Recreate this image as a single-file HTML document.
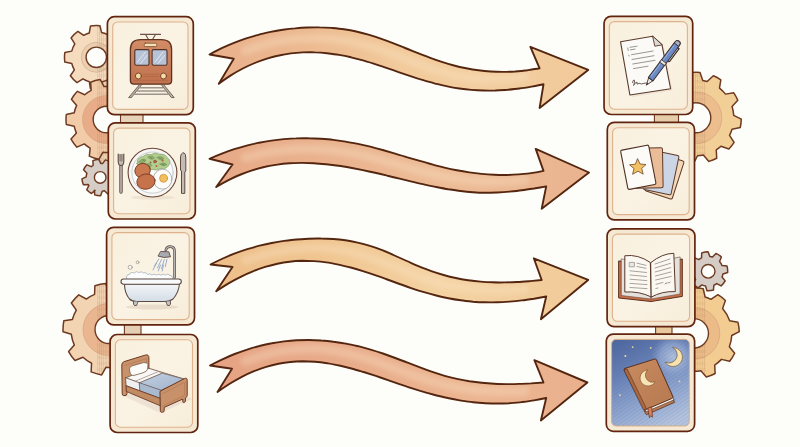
<!DOCTYPE html>
<html><head><meta charset="utf-8"><style>
html,body{margin:0;padding:0;background:#fdfdfa;width:800px;height:447px;overflow:hidden;font-family:"Liberation Sans",sans-serif;}
svg{display:block}
</style></head><body>
<svg width="800" height="447" viewBox="0 0 800 447">
<defs>
<linearGradient id="cardfill" x1="0" y1="0" x2="1" y2="1">
 <stop offset="0" stop-color="#f9f0de"/><stop offset="0.5" stop-color="#faf3e4"/><stop offset="1" stop-color="#f8edda"/>
</linearGradient>
<linearGradient id="g1" x1="209" y1="0" x2="590" y2="0" gradientUnits="userSpaceOnUse">
 <stop offset="0" stop-color="#e9b08c"/><stop offset="0.25" stop-color="#ecb990"/><stop offset="0.5" stop-color="#f2ca9b"/><stop offset="0.7" stop-color="#f3cea0"/><stop offset="1" stop-color="#f1c99a"/>
</linearGradient>
<linearGradient id="g2" x1="209" y1="0" x2="590" y2="0" gradientUnits="userSpaceOnUse">
 <stop offset="0" stop-color="#e7a987"/><stop offset="0.3" stop-color="#eab28e"/><stop offset="0.6" stop-color="#edbc96"/><stop offset="1" stop-color="#eab390"/>
</linearGradient>
<linearGradient id="g3" x1="209" y1="0" x2="590" y2="0" gradientUnits="userSpaceOnUse">
 <stop offset="0" stop-color="#edbe8a"/><stop offset="0.3" stop-color="#f0c590"/><stop offset="0.6" stop-color="#f4d2a2"/><stop offset="1" stop-color="#f1ca98"/>
</linearGradient>
<linearGradient id="g4" x1="209" y1="0" x2="590" y2="0" gradientUnits="userSpaceOnUse">
 <stop offset="0" stop-color="#e5a283"/><stop offset="0.4" stop-color="#e9ad8b"/><stop offset="0.7" stop-color="#ecb591"/><stop offset="1" stop-color="#eab08e"/>
</linearGradient>
<linearGradient id="trainbody" x1="0" y1="0" x2="0" y2="1">
 <stop offset="0" stop-color="#d28c66"/><stop offset="1" stop-color="#c0714e"/>
</linearGradient>
<linearGradient id="tub" x1="0" y1="0" x2="0" y2="1">
 <stop offset="0" stop-color="#f2f5f7"/><stop offset="1" stop-color="#d3dde6"/>
</linearGradient>
<linearGradient id="blanket" x1="0" y1="0" x2="1" y2="1">
 <stop offset="0" stop-color="#c3d0e0"/><stop offset="1" stop-color="#9fb2cb"/>
</linearGradient>
<linearGradient id="bookcover" x1="0" y1="0" x2="1" y2="1">
 <stop offset="0" stop-color="#c98c60"/><stop offset="1" stop-color="#b57850"/>
</linearGradient>
<linearGradient id="nightbase" x1="625" y1="340" x2="665" y2="426" gradientUnits="userSpaceOnUse">
 <stop offset="0" stop-color="#506aa2"/><stop offset="0.35" stop-color="#6a84b9"/><stop offset="0.7" stop-color="#92a8d0"/><stop offset="1" stop-color="#b6c5df"/>
</linearGradient>
<radialGradient id="nightglowr" cx="673" cy="357" r="22" gradientUnits="userSpaceOnUse">
 <stop offset="0" stop-color="#b4c4e0" stop-opacity="0.95"/><stop offset="0.6" stop-color="#a2b5d8" stop-opacity="0.6"/><stop offset="1" stop-color="#8aa0cc" stop-opacity="0"/>
</radialGradient>
<clipPath id="clipL"><rect x="0" y="0" width="112" height="447"/></clipPath>
<clipPath id="clipR"><rect x="690" y="0" width="110" height="447"/></clipPath>
<filter id="soft" x="-10%" y="-50%" width="120%" height="200%"><feGaussianBlur stdDeviation="2.5"/></filter>
<pattern id="grain" width="2.2" height="6" patternUnits="userSpaceOnUse">
 <rect x="0" width="0.7" height="6" fill="#b98a62" opacity="0.35"/><rect x="1.2" y="2" width="0.5" height="3" fill="#a87a55" opacity="0.3"/>
</pattern>
<pattern id="hatch" width="3" height="3" patternUnits="userSpaceOnUse" patternTransform="rotate(-35)">
 <rect width="3" height="1.2" fill="#3e5488"/>
</pattern>
</defs>
<rect width="800" height="447" fill="#fdfdfa"/>
<g clip-path="url(#clipL)">
<rect x="99" y="60" width="10" height="120" fill="#edd3b4"/><rect x="99" y="60" width="10" height="120" fill="url(#grain)"/>
<clipPath id="gc1"><path d="M121.03,51.97L127.89,53.67A31.80,31.80 0 0 1 127.56,63.13L120.60,64.34A25.30,25.30 0 0 1 117.56,71.02L121.21,77.07A31.80,31.80 0 0 1 114.29,83.53L108.51,79.46A25.30,25.30 0 0 1 101.63,82.03L99.93,88.89A31.80,31.80 0 0 1 90.47,88.56L89.26,81.60A25.30,25.30 0 0 1 82.95,78.79L76.97,82.55A31.80,31.80 0 0 1 70.39,75.74L74.36,69.89A25.30,25.30 0 0 1 71.77,63.49L64.85,62.03A31.80,31.80 0 0 1 64.85,52.57L71.77,51.11A25.30,25.30 0 0 1 74.81,43.95L71.05,37.97A31.80,31.80 0 0 1 77.86,31.39L83.71,35.36A25.30,25.30 0 0 1 89.26,33.00L90.47,26.04A31.80,31.80 0 0 1 99.93,25.71L101.63,32.57A25.30,25.30 0 0 1 108.51,35.14L114.29,31.07A31.80,31.80 0 0 1 121.21,37.53L117.56,43.58A25.30,25.30 0 0 1 121.03,51.97Z"/></clipPath><path d="M121.03,51.97L127.89,53.67A31.80,31.80 0 0 1 127.56,63.13L120.60,64.34A25.30,25.30 0 0 1 117.56,71.02L121.21,77.07A31.80,31.80 0 0 1 114.29,83.53L108.51,79.46A25.30,25.30 0 0 1 101.63,82.03L99.93,88.89A31.80,31.80 0 0 1 90.47,88.56L89.26,81.60A25.30,25.30 0 0 1 82.95,78.79L76.97,82.55A31.80,31.80 0 0 1 70.39,75.74L74.36,69.89A25.30,25.30 0 0 1 71.77,63.49L64.85,62.03A31.80,31.80 0 0 1 64.85,52.57L71.77,51.11A25.30,25.30 0 0 1 74.81,43.95L71.05,37.97A31.80,31.80 0 0 1 77.86,31.39L83.71,35.36A25.30,25.30 0 0 1 89.26,33.00L90.47,26.04A31.80,31.80 0 0 1 99.93,25.71L101.63,32.57A25.30,25.30 0 0 1 108.51,35.14L114.29,31.07A31.80,31.80 0 0 1 121.21,37.53L117.56,43.58A25.30,25.30 0 0 1 121.03,51.97Z" fill="#f5dcbf"/><circle cx="96.3" cy="57.3" r="12.6" fill="none" stroke="#ead0b0" stroke-width="4.8"/><circle cx="96.3" cy="57.3" r="15.0" fill="none" stroke="#c99a74" stroke-width="0.7" opacity="0.7"/><g clip-path="url(#gc1)"><rect x="97" y="25.499999999999996" width="15" height="63.6" fill="url(#grain)"/></g><path d="M121.03,51.97L127.89,53.67A31.80,31.80 0 0 1 127.56,63.13L120.60,64.34A25.30,25.30 0 0 1 117.56,71.02L121.21,77.07A31.80,31.80 0 0 1 114.29,83.53L108.51,79.46A25.30,25.30 0 0 1 101.63,82.03L99.93,88.89A31.80,31.80 0 0 1 90.47,88.56L89.26,81.60A25.30,25.30 0 0 1 82.95,78.79L76.97,82.55A31.80,31.80 0 0 1 70.39,75.74L74.36,69.89A25.30,25.30 0 0 1 71.77,63.49L64.85,62.03A31.80,31.80 0 0 1 64.85,52.57L71.77,51.11A25.30,25.30 0 0 1 74.81,43.95L71.05,37.97A31.80,31.80 0 0 1 77.86,31.39L83.71,35.36A25.30,25.30 0 0 1 89.26,33.00L90.47,26.04A31.80,31.80 0 0 1 99.93,25.71L101.63,32.57A25.30,25.30 0 0 1 108.51,35.14L114.29,31.07A31.80,31.80 0 0 1 121.21,37.53L117.56,43.58A25.30,25.30 0 0 1 121.03,51.97Z" fill="none" stroke="#6e3a22" stroke-width="1.5" stroke-linejoin="round"/><circle cx="96.3" cy="57.3" r="10.2" fill="#fdfdfa" stroke="#6e3a22" stroke-width="1.4"/>
<clipPath id="gc2"><path d="M114.20,177.31L118.38,179.51A18.30,18.30 0 0 1 116.73,185.25L112.02,184.90A14.00,14.00 0 0 1 110.98,186.33L112.77,190.70A18.30,18.30 0 0 1 107.82,194.04L104.44,190.74A14.00,14.00 0 0 1 102.24,191.25L100.64,195.69A18.30,18.30 0 0 1 94.73,194.86L94.42,190.15A14.00,14.00 0 0 1 95.04,190.41L91.44,193.47A18.30,18.30 0 0 1 86.73,189.79L88.82,185.56A14.00,14.00 0 0 1 88.12,184.48L83.40,184.67A18.30,18.30 0 0 1 81.96,178.87L86.21,176.82A14.00,14.00 0 0 1 86.86,173.16L83.56,169.78A18.30,18.30 0 0 1 86.90,164.83L91.27,166.62A14.00,14.00 0 0 1 93.12,165.32L92.93,160.60A18.30,18.30 0 0 1 98.73,159.16L100.78,163.41A14.00,14.00 0 0 1 102.54,163.60L105.43,159.86A18.30,18.30 0 0 1 110.80,162.48L109.63,167.06A14.00,14.00 0 0 1 110.87,168.33L115.48,167.33A18.30,18.30 0 0 1 117.91,172.78L114.08,175.54A14.00,14.00 0 0 1 114.20,177.31Z"/></clipPath><path d="M114.20,177.31L118.38,179.51A18.30,18.30 0 0 1 116.73,185.25L112.02,184.90A14.00,14.00 0 0 1 110.98,186.33L112.77,190.70A18.30,18.30 0 0 1 107.82,194.04L104.44,190.74A14.00,14.00 0 0 1 102.24,191.25L100.64,195.69A18.30,18.30 0 0 1 94.73,194.86L94.42,190.15A14.00,14.00 0 0 1 95.04,190.41L91.44,193.47A18.30,18.30 0 0 1 86.73,189.79L88.82,185.56A14.00,14.00 0 0 1 88.12,184.48L83.40,184.67A18.30,18.30 0 0 1 81.96,178.87L86.21,176.82A14.00,14.00 0 0 1 86.86,173.16L83.56,169.78A18.30,18.30 0 0 1 86.90,164.83L91.27,166.62A14.00,14.00 0 0 1 93.12,165.32L92.93,160.60A18.30,18.30 0 0 1 98.73,159.16L100.78,163.41A14.00,14.00 0 0 1 102.54,163.60L105.43,159.86A18.30,18.30 0 0 1 110.80,162.48L109.63,167.06A14.00,14.00 0 0 1 110.87,168.33L115.48,167.33A18.30,18.30 0 0 1 117.91,172.78L114.08,175.54A14.00,14.00 0 0 1 114.20,177.31Z" fill="#d6cec6"/><path d="M114.20,177.31L118.38,179.51A18.30,18.30 0 0 1 116.73,185.25L112.02,184.90A14.00,14.00 0 0 1 110.98,186.33L112.77,190.70A18.30,18.30 0 0 1 107.82,194.04L104.44,190.74A14.00,14.00 0 0 1 102.24,191.25L100.64,195.69A18.30,18.30 0 0 1 94.73,194.86L94.42,190.15A14.00,14.00 0 0 1 95.04,190.41L91.44,193.47A18.30,18.30 0 0 1 86.73,189.79L88.82,185.56A14.00,14.00 0 0 1 88.12,184.48L83.40,184.67A18.30,18.30 0 0 1 81.96,178.87L86.21,176.82A14.00,14.00 0 0 1 86.86,173.16L83.56,169.78A18.30,18.30 0 0 1 86.90,164.83L91.27,166.62A14.00,14.00 0 0 1 93.12,165.32L92.93,160.60A18.30,18.30 0 0 1 98.73,159.16L100.78,163.41A14.00,14.00 0 0 1 102.54,163.60L105.43,159.86A18.30,18.30 0 0 1 110.80,162.48L109.63,167.06A14.00,14.00 0 0 1 110.87,168.33L115.48,167.33A18.30,18.30 0 0 1 117.91,172.78L114.08,175.54A14.00,14.00 0 0 1 114.20,177.31Z" fill="none" stroke="#6e3a22" stroke-width="1.5" stroke-linejoin="round"/><circle cx="100.2" cy="177.4" r="5.8" fill="#fdfdfa" stroke="#6e3a22" stroke-width="1.4"/>
<clipPath id="gc3"><path d="M138.81,112.80L146.69,114.51A40.50,40.50 0 0 1 146.69,124.49L138.81,126.20A33.00,33.00 0 0 1 136.58,133.07L141.95,139.09A40.50,40.50 0 0 1 136.08,147.16L128.70,143.92A33.00,33.00 0 0 1 122.86,148.16L123.66,156.18A40.50,40.50 0 0 1 114.18,159.27L110.11,152.30A33.00,33.00 0 0 1 102.89,152.30L98.82,159.27A40.50,40.50 0 0 1 89.34,156.18L90.14,148.16A33.00,33.00 0 0 1 84.30,143.92L76.92,147.16A40.50,40.50 0 0 1 71.05,139.09L76.42,133.07A33.00,33.00 0 0 1 74.19,126.20L66.31,124.49A40.50,40.50 0 0 1 66.31,114.51L74.19,112.80A33.00,33.00 0 0 1 76.66,105.41L71.40,99.30A40.50,40.50 0 0 1 77.40,91.33L84.73,94.70A33.00,33.00 0 0 1 91.15,90.29L90.63,82.24A40.50,40.50 0 0 1 100.22,79.49L104.04,86.59A33.00,33.00 0 0 1 110.11,86.70L114.18,79.73A40.50,40.50 0 0 1 123.66,82.82L122.86,90.84A33.00,33.00 0 0 1 128.70,95.08L136.08,91.84A40.50,40.50 0 0 1 141.95,99.91L136.58,105.93A33.00,33.00 0 0 1 138.81,112.80Z"/></clipPath><path d="M138.81,112.80L146.69,114.51A40.50,40.50 0 0 1 146.69,124.49L138.81,126.20A33.00,33.00 0 0 1 136.58,133.07L141.95,139.09A40.50,40.50 0 0 1 136.08,147.16L128.70,143.92A33.00,33.00 0 0 1 122.86,148.16L123.66,156.18A40.50,40.50 0 0 1 114.18,159.27L110.11,152.30A33.00,33.00 0 0 1 102.89,152.30L98.82,159.27A40.50,40.50 0 0 1 89.34,156.18L90.14,148.16A33.00,33.00 0 0 1 84.30,143.92L76.92,147.16A40.50,40.50 0 0 1 71.05,139.09L76.42,133.07A33.00,33.00 0 0 1 74.19,126.20L66.31,124.49A40.50,40.50 0 0 1 66.31,114.51L74.19,112.80A33.00,33.00 0 0 1 76.66,105.41L71.40,99.30A40.50,40.50 0 0 1 77.40,91.33L84.73,94.70A33.00,33.00 0 0 1 91.15,90.29L90.63,82.24A40.50,40.50 0 0 1 100.22,79.49L104.04,86.59A33.00,33.00 0 0 1 110.11,86.70L114.18,79.73A40.50,40.50 0 0 1 123.66,82.82L122.86,90.84A33.00,33.00 0 0 1 128.70,95.08L136.08,91.84A40.50,40.50 0 0 1 141.95,99.91L136.58,105.93A33.00,33.00 0 0 1 138.81,112.80Z" fill="#f2cca8"/><circle cx="106.5" cy="119.5" r="18.6" fill="none" stroke="#e8ad88" stroke-width="10.7"/><circle cx="106.5" cy="119.5" r="24.0" fill="none" stroke="#c99a74" stroke-width="0.7" opacity="0.7"/><g clip-path="url(#gc3)"><rect x="97" y="79.0" width="15" height="81.0" fill="url(#grain)"/></g><path d="M138.81,112.80L146.69,114.51A40.50,40.50 0 0 1 146.69,124.49L138.81,126.20A33.00,33.00 0 0 1 136.58,133.07L141.95,139.09A40.50,40.50 0 0 1 136.08,147.16L128.70,143.92A33.00,33.00 0 0 1 122.86,148.16L123.66,156.18A40.50,40.50 0 0 1 114.18,159.27L110.11,152.30A33.00,33.00 0 0 1 102.89,152.30L98.82,159.27A40.50,40.50 0 0 1 89.34,156.18L90.14,148.16A33.00,33.00 0 0 1 84.30,143.92L76.92,147.16A40.50,40.50 0 0 1 71.05,139.09L76.42,133.07A33.00,33.00 0 0 1 74.19,126.20L66.31,124.49A40.50,40.50 0 0 1 66.31,114.51L74.19,112.80A33.00,33.00 0 0 1 76.66,105.41L71.40,99.30A40.50,40.50 0 0 1 77.40,91.33L84.73,94.70A33.00,33.00 0 0 1 91.15,90.29L90.63,82.24A40.50,40.50 0 0 1 100.22,79.49L104.04,86.59A33.00,33.00 0 0 1 110.11,86.70L114.18,79.73A40.50,40.50 0 0 1 123.66,82.82L122.86,90.84A33.00,33.00 0 0 1 128.70,95.08L136.08,91.84A40.50,40.50 0 0 1 141.95,99.91L136.58,105.93A33.00,33.00 0 0 1 138.81,112.80Z" fill="none" stroke="#6e3a22" stroke-width="1.5" stroke-linejoin="round"/><circle cx="106.5" cy="119.5" r="13.3" fill="#fdfdfa" stroke="#6e3a22" stroke-width="1.4"/>
<clipPath id="gc4"><path d="M145.00,341.68L151.30,347.58A46.00,46.00 0 0 1 145.81,357.09L137.54,354.58A38.00,38.00 0 0 1 129.87,361.26L131.20,369.79A46.00,46.00 0 0 1 121.02,373.90L116.05,366.84A38.00,38.00 0 0 1 105.89,367.37L101.69,374.91A46.00,46.00 0 0 1 91.14,371.89L91.57,363.26A38.00,38.00 0 0 1 82.99,357.20L75.00,360.49A46.00,46.00 0 0 1 68.63,351.55L74.34,345.07A38.00,38.00 0 0 1 71.31,334.33L63.06,331.79A46.00,46.00 0 0 1 63.82,320.84L72.35,319.47A38.00,38.00 0 0 1 76.32,310.10L71.39,303.02A46.00,46.00 0 0 1 78.73,294.86L86.29,299.03A38.00,38.00 0 0 1 94.58,294.34L94.90,285.71A46.00,46.00 0 0 1 105.67,283.62L109.20,291.50A38.00,38.00 0 0 1 129.52,297.52L136.78,292.84A46.00,46.00 0 0 1 144.67,300.46L140.24,307.87A38.00,38.00 0 0 1 144.86,316.94L153.46,317.71A46.00,46.00 0 0 1 154.99,328.58L146.94,331.69A38.00,38.00 0 0 1 145.00,341.68Z"/></clipPath><path d="M145.00,341.68L151.30,347.58A46.00,46.00 0 0 1 145.81,357.09L137.54,354.58A38.00,38.00 0 0 1 129.87,361.26L131.20,369.79A46.00,46.00 0 0 1 121.02,373.90L116.05,366.84A38.00,38.00 0 0 1 105.89,367.37L101.69,374.91A46.00,46.00 0 0 1 91.14,371.89L91.57,363.26A38.00,38.00 0 0 1 82.99,357.20L75.00,360.49A46.00,46.00 0 0 1 68.63,351.55L74.34,345.07A38.00,38.00 0 0 1 71.31,334.33L63.06,331.79A46.00,46.00 0 0 1 63.82,320.84L72.35,319.47A38.00,38.00 0 0 1 76.32,310.10L71.39,303.02A46.00,46.00 0 0 1 78.73,294.86L86.29,299.03A38.00,38.00 0 0 1 94.58,294.34L94.90,285.71A46.00,46.00 0 0 1 105.67,283.62L109.20,291.50A38.00,38.00 0 0 1 129.52,297.52L136.78,292.84A46.00,46.00 0 0 1 144.67,300.46L140.24,307.87A38.00,38.00 0 0 1 144.86,316.94L153.46,317.71A46.00,46.00 0 0 1 154.99,328.58L146.94,331.69A38.00,38.00 0 0 1 145.00,341.68Z" fill="#f2d3b2"/><circle cx="109" cy="329.5" r="20.0" fill="none" stroke="#e9b690" stroke-width="12.0"/><circle cx="109" cy="329.5" r="26.0" fill="none" stroke="#c99a74" stroke-width="0.7" opacity="0.7"/><g clip-path="url(#gc4)"><rect x="97" y="283.5" width="15" height="92" fill="url(#grain)"/></g><path d="M145.00,341.68L151.30,347.58A46.00,46.00 0 0 1 145.81,357.09L137.54,354.58A38.00,38.00 0 0 1 129.87,361.26L131.20,369.79A46.00,46.00 0 0 1 121.02,373.90L116.05,366.84A38.00,38.00 0 0 1 105.89,367.37L101.69,374.91A46.00,46.00 0 0 1 91.14,371.89L91.57,363.26A38.00,38.00 0 0 1 82.99,357.20L75.00,360.49A46.00,46.00 0 0 1 68.63,351.55L74.34,345.07A38.00,38.00 0 0 1 71.31,334.33L63.06,331.79A46.00,46.00 0 0 1 63.82,320.84L72.35,319.47A38.00,38.00 0 0 1 76.32,310.10L71.39,303.02A46.00,46.00 0 0 1 78.73,294.86L86.29,299.03A38.00,38.00 0 0 1 94.58,294.34L94.90,285.71A46.00,46.00 0 0 1 105.67,283.62L109.20,291.50A38.00,38.00 0 0 1 129.52,297.52L136.78,292.84A46.00,46.00 0 0 1 144.67,300.46L140.24,307.87A38.00,38.00 0 0 1 144.86,316.94L153.46,317.71A46.00,46.00 0 0 1 154.99,328.58L146.94,331.69A38.00,38.00 0 0 1 145.00,341.68Z" fill="none" stroke="#6e3a22" stroke-width="1.5" stroke-linejoin="round"/><circle cx="109" cy="329.5" r="14" fill="#fdfdfa" stroke="#6e3a22" stroke-width="1.4"/>
</g><g clip-path="url(#clipR)">
<clipPath id="gc5"><path d="M733.73,115.44L741.28,119.11A45.50,45.50 0 0 1 740.25,127.53L732.03,129.26A38.00,38.00 0 0 1 729.52,135.31L734.11,142.35A45.50,45.50 0 0 1 728.89,149.03L720.95,146.28A38.00,38.00 0 0 1 716.25,149.83L716.71,158.21A45.50,45.50 0 0 1 708.84,161.39L703.34,155.04A38.00,38.00 0 0 1 697.49,155.76L693.70,163.25A45.50,45.50 0 0 1 685.29,162.07L683.71,153.82A38.00,38.00 0 0 1 674.31,149.14L666.77,152.83A45.50,45.50 0 0 1 660.77,146.83L664.46,139.29A38.00,38.00 0 0 1 658.44,124.76L650.50,122.04A45.50,45.50 0 0 1 650.50,113.56L658.44,110.84A38.00,38.00 0 0 1 664.46,96.31L660.77,88.77A45.50,45.50 0 0 1 666.77,82.77L674.31,86.46A38.00,38.00 0 0 1 688.84,80.44L691.56,72.50A45.50,45.50 0 0 1 700.04,72.50L702.76,80.44A38.00,38.00 0 0 1 707.19,81.55L713.32,75.81A45.50,45.50 0 0 1 720.81,79.79L719.48,88.08A38.00,38.00 0 0 1 725.52,94.12L733.81,92.79A45.50,45.50 0 0 1 737.79,100.28L732.05,106.41A38.00,38.00 0 0 1 733.73,115.44Z"/></clipPath><path d="M733.73,115.44L741.28,119.11A45.50,45.50 0 0 1 740.25,127.53L732.03,129.26A38.00,38.00 0 0 1 729.52,135.31L734.11,142.35A45.50,45.50 0 0 1 728.89,149.03L720.95,146.28A38.00,38.00 0 0 1 716.25,149.83L716.71,158.21A45.50,45.50 0 0 1 708.84,161.39L703.34,155.04A38.00,38.00 0 0 1 697.49,155.76L693.70,163.25A45.50,45.50 0 0 1 685.29,162.07L683.71,153.82A38.00,38.00 0 0 1 674.31,149.14L666.77,152.83A45.50,45.50 0 0 1 660.77,146.83L664.46,139.29A38.00,38.00 0 0 1 658.44,124.76L650.50,122.04A45.50,45.50 0 0 1 650.50,113.56L658.44,110.84A38.00,38.00 0 0 1 664.46,96.31L660.77,88.77A45.50,45.50 0 0 1 666.77,82.77L674.31,86.46A38.00,38.00 0 0 1 688.84,80.44L691.56,72.50A45.50,45.50 0 0 1 700.04,72.50L702.76,80.44A38.00,38.00 0 0 1 707.19,81.55L713.32,75.81A45.50,45.50 0 0 1 720.81,79.79L719.48,88.08A38.00,38.00 0 0 1 725.52,94.12L733.81,92.79A45.50,45.50 0 0 1 737.79,100.28L732.05,106.41A38.00,38.00 0 0 1 733.73,115.44Z" fill="#f3cf98"/><circle cx="695.8" cy="117.8" r="20.5" fill="none" stroke="#ecbe8e" stroke-width="11.0"/><circle cx="695.8" cy="117.8" r="26.0" fill="none" stroke="#c99a74" stroke-width="0.7" opacity="0.7"/><g clip-path="url(#gc5)"><rect x="690" y="72.3" width="16" height="91.0" fill="url(#grain)"/></g><path d="M733.73,115.44L741.28,119.11A45.50,45.50 0 0 1 740.25,127.53L732.03,129.26A38.00,38.00 0 0 1 729.52,135.31L734.11,142.35A45.50,45.50 0 0 1 728.89,149.03L720.95,146.28A38.00,38.00 0 0 1 716.25,149.83L716.71,158.21A45.50,45.50 0 0 1 708.84,161.39L703.34,155.04A38.00,38.00 0 0 1 697.49,155.76L693.70,163.25A45.50,45.50 0 0 1 685.29,162.07L683.71,153.82A38.00,38.00 0 0 1 674.31,149.14L666.77,152.83A45.50,45.50 0 0 1 660.77,146.83L664.46,139.29A38.00,38.00 0 0 1 658.44,124.76L650.50,122.04A45.50,45.50 0 0 1 650.50,113.56L658.44,110.84A38.00,38.00 0 0 1 664.46,96.31L660.77,88.77A45.50,45.50 0 0 1 666.77,82.77L674.31,86.46A38.00,38.00 0 0 1 688.84,80.44L691.56,72.50A45.50,45.50 0 0 1 700.04,72.50L702.76,80.44A38.00,38.00 0 0 1 707.19,81.55L713.32,75.81A45.50,45.50 0 0 1 720.81,79.79L719.48,88.08A38.00,38.00 0 0 1 725.52,94.12L733.81,92.79A45.50,45.50 0 0 1 737.79,100.28L732.05,106.41A38.00,38.00 0 0 1 733.73,115.44Z" fill="none" stroke="#6e3a22" stroke-width="1.5" stroke-linejoin="round"/><circle cx="695.8" cy="117.8" r="15" fill="#fdfdfa" stroke="#6e3a22" stroke-width="1.4"/>
<clipPath id="gc6"><path d="M729.35,346.73L734.69,353.26A45.50,45.50 0 0 1 729.66,361.30L721.45,359.37A38.00,38.00 0 0 1 714.67,365.06L715.15,373.48A45.50,45.50 0 0 1 706.36,377.03L700.85,370.64A38.00,38.00 0 0 1 692.02,371.26L687.45,378.36A45.50,45.50 0 0 1 678.25,376.06L677.56,367.65A38.00,38.00 0 0 1 670.05,362.96L662.18,366.02A45.50,45.50 0 0 1 656.09,358.76L660.47,351.54A38.00,38.00 0 0 1 656.54,340.75L648.55,338.04A45.50,45.50 0 0 1 648.55,328.56L656.54,325.85A38.00,38.00 0 0 1 660.47,315.06L656.09,307.84A45.50,45.50 0 0 1 662.18,300.58L670.05,303.64A38.00,38.00 0 0 1 690.28,295.46L693.81,287.80A45.50,45.50 0 0 1 703.25,288.79L705.11,297.02A38.00,38.00 0 0 1 710.87,299.35L717.92,294.72A45.50,45.50 0 0 1 725.40,300.56L722.61,308.52A38.00,38.00 0 0 1 729.66,320.74L737.95,322.31A45.50,45.50 0 0 1 739.27,331.70L731.74,335.49A38.00,38.00 0 0 1 729.35,346.73Z"/></clipPath><path d="M729.35,346.73L734.69,353.26A45.50,45.50 0 0 1 729.66,361.30L721.45,359.37A38.00,38.00 0 0 1 714.67,365.06L715.15,373.48A45.50,45.50 0 0 1 706.36,377.03L700.85,370.64A38.00,38.00 0 0 1 692.02,371.26L687.45,378.36A45.50,45.50 0 0 1 678.25,376.06L677.56,367.65A38.00,38.00 0 0 1 670.05,362.96L662.18,366.02A45.50,45.50 0 0 1 656.09,358.76L660.47,351.54A38.00,38.00 0 0 1 656.54,340.75L648.55,338.04A45.50,45.50 0 0 1 648.55,328.56L656.54,325.85A38.00,38.00 0 0 1 660.47,315.06L656.09,307.84A45.50,45.50 0 0 1 662.18,300.58L670.05,303.64A38.00,38.00 0 0 1 690.28,295.46L693.81,287.80A45.50,45.50 0 0 1 703.25,288.79L705.11,297.02A38.00,38.00 0 0 1 710.87,299.35L717.92,294.72A45.50,45.50 0 0 1 725.40,300.56L722.61,308.52A38.00,38.00 0 0 1 729.66,320.74L737.95,322.31A45.50,45.50 0 0 1 739.27,331.70L731.74,335.49A38.00,38.00 0 0 1 729.35,346.73Z" fill="#f3cc92"/><circle cx="693.8" cy="333.3" r="20.4" fill="none" stroke="#ebbb88" stroke-width="11.3"/><circle cx="693.8" cy="333.3" r="26.0" fill="none" stroke="#c99a74" stroke-width="0.7" opacity="0.7"/><g clip-path="url(#gc6)"><rect x="690" y="287.8" width="16" height="91.0" fill="url(#grain)"/></g><path d="M729.35,346.73L734.69,353.26A45.50,45.50 0 0 1 729.66,361.30L721.45,359.37A38.00,38.00 0 0 1 714.67,365.06L715.15,373.48A45.50,45.50 0 0 1 706.36,377.03L700.85,370.64A38.00,38.00 0 0 1 692.02,371.26L687.45,378.36A45.50,45.50 0 0 1 678.25,376.06L677.56,367.65A38.00,38.00 0 0 1 670.05,362.96L662.18,366.02A45.50,45.50 0 0 1 656.09,358.76L660.47,351.54A38.00,38.00 0 0 1 656.54,340.75L648.55,338.04A45.50,45.50 0 0 1 648.55,328.56L656.54,325.85A38.00,38.00 0 0 1 660.47,315.06L656.09,307.84A45.50,45.50 0 0 1 662.18,300.58L670.05,303.64A38.00,38.00 0 0 1 690.28,295.46L693.81,287.80A45.50,45.50 0 0 1 703.25,288.79L705.11,297.02A38.00,38.00 0 0 1 710.87,299.35L717.92,294.72A45.50,45.50 0 0 1 725.40,300.56L722.61,308.52A38.00,38.00 0 0 1 729.66,320.74L737.95,322.31A45.50,45.50 0 0 1 739.27,331.70L731.74,335.49A38.00,38.00 0 0 1 729.35,346.73Z" fill="none" stroke="#6e3a22" stroke-width="1.5" stroke-linejoin="round"/><circle cx="693.8" cy="333.3" r="14.7" fill="#fdfdfa" stroke="#6e3a22" stroke-width="1.4"/>
<clipPath id="gc7"><path d="M722.03,277.10L725.18,280.89A19.50,19.50 0 0 1 721.11,285.92L716.75,283.62A15.00,15.00 0 0 1 713.88,285.18L713.43,290.09A19.50,19.50 0 0 1 706.99,290.76L705.54,286.06A15.00,15.00 0 0 1 701.92,284.92L698.03,287.94A19.50,19.50 0 0 1 693.14,283.69L695.59,279.42A15.00,15.00 0 0 1 694.22,276.73L689.33,276.20A19.50,19.50 0 0 1 688.76,269.75L693.49,268.38A15.00,15.00 0 0 1 694.00,266.47L690.59,262.92A19.50,19.50 0 0 1 694.30,257.62L698.81,259.60A15.00,15.00 0 0 1 701.57,257.85L701.67,252.92A19.50,19.50 0 0 1 708.05,251.80L709.83,256.39A15.00,15.00 0 0 1 712.53,256.94L715.96,253.41A19.50,19.50 0 0 1 721.39,256.93L719.56,261.51A15.00,15.00 0 0 1 722.08,265.62L726.99,266.07A19.50,19.50 0 0 1 727.66,272.51L722.96,273.96A15.00,15.00 0 0 1 722.03,277.10Z"/></clipPath><path d="M722.03,277.10L725.18,280.89A19.50,19.50 0 0 1 721.11,285.92L716.75,283.62A15.00,15.00 0 0 1 713.88,285.18L713.43,290.09A19.50,19.50 0 0 1 706.99,290.76L705.54,286.06A15.00,15.00 0 0 1 701.92,284.92L698.03,287.94A19.50,19.50 0 0 1 693.14,283.69L695.59,279.42A15.00,15.00 0 0 1 694.22,276.73L689.33,276.20A19.50,19.50 0 0 1 688.76,269.75L693.49,268.38A15.00,15.00 0 0 1 694.00,266.47L690.59,262.92A19.50,19.50 0 0 1 694.30,257.62L698.81,259.60A15.00,15.00 0 0 1 701.57,257.85L701.67,252.92A19.50,19.50 0 0 1 708.05,251.80L709.83,256.39A15.00,15.00 0 0 1 712.53,256.94L715.96,253.41A19.50,19.50 0 0 1 721.39,256.93L719.56,261.51A15.00,15.00 0 0 1 722.08,265.62L726.99,266.07A19.50,19.50 0 0 1 727.66,272.51L722.96,273.96A15.00,15.00 0 0 1 722.03,277.10Z" fill="#d5cdc5"/><path d="M722.03,277.10L725.18,280.89A19.50,19.50 0 0 1 721.11,285.92L716.75,283.62A15.00,15.00 0 0 1 713.88,285.18L713.43,290.09A19.50,19.50 0 0 1 706.99,290.76L705.54,286.06A15.00,15.00 0 0 1 701.92,284.92L698.03,287.94A19.50,19.50 0 0 1 693.14,283.69L695.59,279.42A15.00,15.00 0 0 1 694.22,276.73L689.33,276.20A19.50,19.50 0 0 1 688.76,269.75L693.49,268.38A15.00,15.00 0 0 1 694.00,266.47L690.59,262.92A19.50,19.50 0 0 1 694.30,257.62L698.81,259.60A15.00,15.00 0 0 1 701.57,257.85L701.67,252.92A19.50,19.50 0 0 1 708.05,251.80L709.83,256.39A15.00,15.00 0 0 1 712.53,256.94L715.96,253.41A19.50,19.50 0 0 1 721.39,256.93L719.56,261.51A15.00,15.00 0 0 1 722.08,265.62L726.99,266.07A19.50,19.50 0 0 1 727.66,272.51L722.96,273.96A15.00,15.00 0 0 1 722.03,277.10Z" fill="none" stroke="#6e3a22" stroke-width="1.5" stroke-linejoin="round"/><circle cx="708.2" cy="271.3" r="6.8" fill="#fdfdfa" stroke="#6e3a22" stroke-width="1.4"/>
</g>
<rect x="120.5" y="113.5" width="22.5" height="10.0" fill="#e6d2b8" stroke="#6e3a22" stroke-width="1.1"/>
<rect x="124.4" y="324.5" width="16.6" height="11.0" fill="#e4cfb4" stroke="#6e3a22" stroke-width="1.1"/>
<rect x="654.4" y="114" width="24.1" height="9.5" fill="#e6cdaa" stroke="#6e3a22" stroke-width="1.1"/>
<rect x="655.6" y="326" width="16.4" height="8.5" fill="#e8c89c" stroke="#6e3a22" stroke-width="1.1"/>
<rect x="107.40" y="16.70" width="85.90" height="98.00" rx="7" fill="#f6e9d4" stroke="#62240f" stroke-width="1.7"/><rect x="112.70" y="22.00" width="75.30" height="87.40" rx="5" fill="url(#cardfill)" stroke="#deb28c" stroke-width="1.1"/>
<rect x="108.30" y="122.80" width="87.00" height="96.20" rx="7" fill="#f6e9d4" stroke="#62240f" stroke-width="1.7"/><rect x="113.60" y="128.10" width="76.40" height="85.60" rx="5" fill="url(#cardfill)" stroke="#deb28c" stroke-width="1.1"/>
<rect x="106.60" y="227.30" width="87.90" height="97.60" rx="7" fill="#f6e9d4" stroke="#62240f" stroke-width="1.7"/><rect x="111.90" y="232.60" width="77.30" height="87.00" rx="5" fill="url(#cardfill)" stroke="#deb28c" stroke-width="1.1"/>
<rect x="110.10" y="334.50" width="87.70" height="98.00" rx="7" fill="#f6e9d4" stroke="#62240f" stroke-width="1.7"/><rect x="115.40" y="339.80" width="77.10" height="87.40" rx="5" fill="url(#cardfill)" stroke="#deb28c" stroke-width="1.1"/>
<rect x="604.05" y="16.30" width="88.65" height="98.20" rx="7" fill="#f6e9d4" stroke="#62240f" stroke-width="1.7"/><rect x="609.35" y="21.60" width="78.05" height="87.60" rx="5" fill="url(#cardfill)" stroke="#deb28c" stroke-width="1.1"/>
<rect x="607.30" y="122.40" width="87.20" height="97.50" rx="7" fill="#f6e9d4" stroke="#62240f" stroke-width="1.7"/><rect x="612.60" y="127.70" width="76.60" height="86.90" rx="5" fill="url(#cardfill)" stroke="#deb28c" stroke-width="1.1"/>
<rect x="607.10" y="228.80" width="87.80" height="97.80" rx="7" fill="#f6e9d4" stroke="#62240f" stroke-width="1.7"/><rect x="612.40" y="234.10" width="77.20" height="87.20" rx="5" fill="url(#cardfill)" stroke="#deb28c" stroke-width="1.1"/>
<rect x="606.30" y="334.10" width="88.30" height="97.20" rx="7" fill="#f6e9d4" stroke="#62240f" stroke-width="1.7"/><rect x="611.60" y="339.40" width="77.70" height="86.60" rx="4.5" fill="url(#nightbase)" stroke="#dcae88" stroke-width="1"/>
<g id="train" stroke-linejoin="round" stroke-linecap="round">
  <path d="M140.5,34.4 L160.5,34.4 M145.5,34.4 L148.5,39.6 M155.5,34.4 L152.5,39.6" stroke="#6b5247" stroke-width="1.1" fill="none"/>
  <path d="M140.5,39.7 L161.5,39.7 Q171.6,39.7 171.6,49.5 L171.6,80.5 Q171.6,84.2 168,84.2 L134,84.2 Q130.4,84.2 130.4,80.5 L130.4,49.5 Q130.4,39.7 140.5,39.7 Z" fill="url(#trainbody)" stroke="#5f3220" stroke-width="1.3"/>
  <rect x="144.3" y="43.2" width="12.5" height="3.4" rx="1" fill="#f4dfb2" stroke="#7a4a32" stroke-width="0.8"/>
  <rect x="134.8" y="49.6" width="14.2" height="15.7" rx="1.5" fill="#b7c2d6" stroke="#4f3327" stroke-width="1.1"/>
  <rect x="152.1" y="49.6" width="14.9" height="15.7" rx="1.5" fill="#b7c2d6" stroke="#4f3327" stroke-width="1.1"/>
  <path d="M137.5,62 L145.5,52 M140.5,63.5 L147,55.5 M155,62 L163,52 M158,63.5 L164.5,55.5" stroke="#e6ecf4" stroke-width="0.9"/>
  <path d="M143,74.3 L159,74.3 M143,76.6 L159,76.6 M134,80.3 L168,80.3" stroke="#a9603f" stroke-width="0.7" opacity="0.8"/>
  <circle cx="138.4" cy="76" r="3" fill="#f6dca0" stroke="#6a3a25" stroke-width="0.9"/>
  <circle cx="163.5" cy="76" r="3" fill="#f6dca0" stroke="#6a3a25" stroke-width="0.9"/>
  <path d="M139.5,84.6 L128.6,97.6 L131.4,97.6 L141.8,84.6 Z M161.2,84.6 L171.4,97.6 L174.2,97.6 L163.6,84.6 Z" fill="#bdb3aa" stroke="#5e4a40" stroke-width="0.8"/>
  <path d="M138.8,87.8 L162.6,87.8 M136.2,91 L165.2,91 M133.6,94.2 L167.8,94.2" stroke="#9d948c" stroke-width="1.6"/>
</g>

<g id="plate" stroke-linejoin="round" stroke-linecap="round">
  <ellipse cx="152.8" cy="197.5" rx="22" ry="2" fill="#e9dccb" opacity="0.7"/>
  <circle cx="152.5" cy="172.6" r="24.4" fill="#f7f6f3" stroke="#6a4536" stroke-width="1.1"/>
  <circle cx="152.5" cy="172.6" r="20.6" fill="#fbfbf9" stroke="#c9cdd2" stroke-width="1"/>
  <path d="M137,163.5 Q137,157 143,156.5 Q146,152.8 151,154.5 Q155,151.8 159.5,154.5 Q165,153.5 167,157.5 Q171.5,160 169,165 Q166.5,169.5 161,168.5 Q157,171 152,169.5 Q147,171.5 142.5,169 Q137.5,168.5 137,163.5 Z" fill="#b2cd8e" stroke="#7d9a62" stroke-width="0.6"/>
  <path d="M139,162 Q142,157.5 146,160 Q144,164 139,162 Z M148,157 Q152,154.5 154.5,158 Q151,161 148,157 Z M157,157.5 Q161,155 164,158.5 Q160.5,161.5 157,157.5 Z M160,164 Q164,161.5 167,164.5 Q163.5,167.5 160,164 Z M146,164.5 Q149.5,162 152,165.5 Q148.5,168 146,164.5 Z" fill="#8fb070" stroke="#6c8a55" stroke-width="0.5"/>
  <path d="M143,160 l2,1.5 M150,157.2 l2,1.6 M159.5,157.8 l2.4,1.3 M162,164.3 l2.5,0.6 M148,165 l2,1.2" stroke="#5f7d45" stroke-width="0.6"/>
  <circle cx="155" cy="161.5" r="1.5" fill="#b0674a" stroke="#7a3b24" stroke-width="0.4"/><circle cx="162.5" cy="160.5" r="1.2" fill="#c0704e"/><circle cx="150.5" cy="162.5" r="1" fill="#8c6a4a"/><circle cx="156.5" cy="166" r="1.1" fill="#b06a48"/>
  <ellipse cx="162.6" cy="179.2" rx="9.3" ry="10" fill="#fdfcf8" stroke="#9aa0a6" stroke-width="0.8"/>
  <circle cx="163.6" cy="178.3" r="4" fill="#f3bf5e" stroke="#c98a3a" stroke-width="0.7"/>
  <ellipse cx="142.6" cy="170.6" rx="7.8" ry="7.2" transform="rotate(-20 142.6 170.6)" fill="#c9784f" stroke="#7a3b24" stroke-width="0.9"/>
  <ellipse cx="146" cy="181.6" rx="9.2" ry="7.6" transform="rotate(-10 146 181.6)" fill="#c6734c" stroke="#7a3b24" stroke-width="0.9"/>
  <path d="M121,166 L121,192" stroke="#5f4a40" stroke-width="3.4"/>
  <path d="M121,166 L121,192" stroke="#b3aca6" stroke-width="1.8"/>
  <path d="M118.2,154 L118.2,161 Q118.2,165.5 121,165.5 Q123.8,165.5 123.8,161 L123.8,154" stroke="#5f4a40" stroke-width="1.1" fill="#c3bcb6"/>
  <path d="M120.1,154.5 L120.1,161 M121.9,154.5 L121.9,161" stroke="#5f4a40" stroke-width="0.7"/>
  <path d="M181.5,193 L181.5,171 L180.5,170 L180.5,158 Q180.5,152.8 184,152.8 Q185.8,153.5 185.8,158 L185.8,171 L184.8,172 L184.8,193 Z" fill="#c3bcb6" stroke="#5f4a40" stroke-width="1"/>
</g>

<g id="bath" stroke-linejoin="round" stroke-linecap="round">
  <ellipse cx="152" cy="307" rx="26" ry="2.6" fill="#e6d7c6" opacity="0.8"/>
  <path d="M174.6,277.5 L174.6,251.5 Q174.6,246.6 170.2,246.6 Q166.6,246.6 165.8,250" stroke="#5d4a42" stroke-width="2.6" fill="none"/>
  <path d="M174.6,277.5 L174.6,251.5 Q174.6,246.6 170.2,246.6 Q166.6,246.6 165.8,250" stroke="#b8b5b2" stroke-width="1.2" fill="none"/>
  <path d="M161,251.5 L168.8,251.8 L170.5,256.8 Q164,258.5 158.4,256.2 Z" fill="#a7aab0" stroke="#5d4a42" stroke-width="0.9"/>
  <path d="M158.8,259 L154.5,266 M161.5,259.5 L157.5,268 M164.3,259.5 L161.5,268.5 M167,259.3 L165.3,266.5 M156.5,263 L153,270 M160.5,265 L158.2,271 M163.5,265 L162.2,271" stroke="#7d9bc9" stroke-width="0.8"/>
  <circle cx="130.2" cy="267.3" r="2" fill="#fbfbfa" stroke="#8a7a72" stroke-width="0.6"/>
  <circle cx="137.6" cy="262.3" r="1.4" fill="#fbfbfa" stroke="#8a7a72" stroke-width="0.6"/>
  <path d="M126.5,279 Q126,274 129.5,274.5 Q130.5,271.5 134,273 Q136,270.5 139,272.5 Q141.5,270.8 143.5,273 Q146,271.5 147.5,274.5 Q150,273 152,275 Q154,273.5 156.5,275 Q159,273.5 161,275.2 Q163,273.5 165.5,275 Q168,273 170,275.5 Q172.5,275 172.5,279 Z" fill="#fdfdfd" stroke="#9aa6b2" stroke-width="0.7"/>
  <path d="M124.5,284 L179.5,284 Q178.5,293 173,299 Q170,301.5 165,301.5 L137,301.5 Q132,301.5 129.5,299 Q124.5,293 124.5,284 Z" fill="url(#tub)" stroke="#5d4a42" stroke-width="1.1"/>
  <rect x="121" y="279" width="60.3" height="5.2" rx="2.6" fill="#f7f9fa" stroke="#5d4a42" stroke-width="1.1"/>
  <path d="M133.5,301.5 Q133,305 134.5,305.5 L136.5,305.5 Q137.5,304 138,301.5 M166,301.5 Q166.5,304 167.5,305.5 L169.5,305.5 Q171,305 170.5,301.5" fill="#bfc4c9" stroke="#5d4a42" stroke-width="0.9"/>
</g>

<g id="bed" stroke-linejoin="round" stroke-linecap="round">
  <path d="M124,396 L160,413 L192,399 L170,390 L150,386 Z" fill="#e2d4c6" opacity="0.55"/>
  <path d="M121.8,364.6 Q121.8,362.4 124.2,361.6 L145.6,355 Q148.8,354.3 148.9,357.6 L148.9,369 L127,379.5 L127,393.6 Q127,395.6 125,395.6 L123.6,395.6 Q122.2,395.6 122.2,394 Z" fill="#c8916a" stroke="#6b3a22" stroke-width="1"/>
  <path d="M124.6,365.5 L146.4,358.6 L146.4,368" fill="none" stroke="#ad7650" stroke-width="0.6"/>
  <path d="M125.9,377.8 L148.9,368.3 L185.2,379.4 L160.9,390.2 Z" fill="#f7f7f5" stroke="#6b4a3a" stroke-width="0.8"/>
  <path d="M129.5,369.8 Q129,366.8 132.5,365.8 L143.5,362.6 Q147.2,362 148,364.6 L147.6,369.2 Q146.6,371.8 143,372.8 L134,375.4 Q130.8,376 130,372.4 Z" fill="#fbfbf9" stroke="#7a5a48" stroke-width="0.8"/>
  <path d="M135.4,381.2 L158.4,371.6 L162.4,373 L139.5,382.8 Z" fill="#f9f9f7" stroke="#8a6a58" stroke-width="0.6"/>
  <path d="M139.5,382.8 L162.4,373.2 L185.2,379.4 L160.9,390.2 Z" fill="url(#blanket)" stroke="#6b5a5a" stroke-width="0.7"/>
  <path d="M125.9,377.8 L139.5,382.8 L140.3,391.2 L126.3,385.8 Z" fill="#eef0f2" stroke="#6b4a3a" stroke-width="0.7"/>
  <path d="M139.5,382.8 L160.9,390.2 L160.9,398.6 L140.3,391.2 Z" fill="#a9bad0" stroke="#6b5a5a" stroke-width="0.7"/>
  <path d="M126.3,385.8 L160.9,398.6 L160.9,406 L126.6,391.6 Z" fill="#c08a62" stroke="#6b3a22" stroke-width="0.9"/>
  <path d="M160.3,391.2 L184.4,378.6 Q187.2,377.3 187.2,380.4 L187.2,395.4 Q187.2,397 185.8,397.6 L185.4,397.8 L185.4,401.2 Q185.4,402 184.4,402.4 L183.6,402.6 Q182.8,402.6 182.8,401.8 L182.8,399 L164.2,407.4 L164.2,410.6 Q164.2,412.2 162.6,412.2 L161.6,412.2 Q160.3,412.2 160.3,410.6 Z" fill="#c8916a" stroke="#6b3a22" stroke-width="1"/>
  <path d="M163,393.5 L184.6,382.2 L184.6,395.4 L163,405.8" fill="none" stroke="#ad7650" stroke-width="0.6"/>
</g>

<g id="doc" stroke-linejoin="round" stroke-linecap="round">
  <path d="M622.5,44 L654.5,38.5 L664,47 L672.5,90.5 L632,97 Z" fill="#e8dccd" opacity="0.6"/>
  <path d="M620.5,41.7 L652.6,36.3 L662,44.9 L670.6,88.7 L629.9,95 Z" fill="#fbfaf7" stroke="#5a3a2a" stroke-width="1.1"/>
  <path d="M652.6,36.3 L654.8,46.2 L662,44.9 Z" fill="#dcd9d4" stroke="#5a3a2a" stroke-width="0.9"/>
  <path d="M627.8,48 L628.2,50.5 M630,47.3 L637,46.2 M630.4,49.9 L635,49.1 M628.8,55.2 L629,56 M631.5,54.7 L653,51 M632,59.5 L654,55.7 M632.8,64 L655,60.3 M633.5,68.6 L648,66.2" stroke="#8f8a86" stroke-width="0.9"/>
  <path d="M632.5,82.5 Q634,78 634.5,81 Q634,86 633.5,85.5 Q635,82.5 637,82 Q636.5,85 638,84 Q639,82.5 640,83.5 Q641,84.5 643,83.5 L646,83" stroke="#4d3a33" stroke-width="0.8" fill="none"/>
  <g transform="translate(646.4,84.8) rotate(-53.2)">
    <path d="M0,0 L7,-2.4 L7,2.4 Z" fill="#efece6" stroke="#3d2a2a" stroke-width="0.8"/>
    <path d="M0,0 L2.2,-0.8 L2.2,0.8 Z" fill="#3d2a2a"/>
    <path d="M7,-2.9 L51,-2.9 Q54.6,-2.9 54.6,0 Q54.6,2.9 51,2.9 L7,2.9 Z" fill="#6a8ac4" stroke="#3d2a2a" stroke-width="1"/>
    <path d="M10,-1.4 L48,-1.4" stroke="#9fb6de" stroke-width="1" opacity="0.8"/>
    <rect x="26.5" y="-2.9" width="2.6" height="5.8" fill="#ece6da" stroke="#3d2a2a" stroke-width="0.7"/>
    <path d="M50.5,-2.9 Q54.6,-2.9 54.6,0 Q54.6,2.9 50.5,2.9 Z" fill="#a9b2c2" stroke="#3d2a2a" stroke-width="0.8"/>
    <path d="M48.5,2.9 L48.5,4.6 L33,4.6 Q32,4.6 32,3.8" fill="none" stroke="#3d2a2a" stroke-width="1.2"/>
  </g>
</g>

<g id="cards" stroke-linejoin="round">
  <rect x="-14.3" y="-20" width="28.6" height="40" rx="1.5" transform="translate(664.5 176) rotate(18)" fill="#f3d8b8" stroke="#5e3a28" stroke-width="1"/>
  <rect x="-14.3" y="-20" width="28.6" height="40" rx="1.5" transform="translate(661 172.5) rotate(12)" fill="#cbd5e6" stroke="#5e3a28" stroke-width="1"/>
  <rect x="-14.3" y="-20" width="28.6" height="40" rx="1.5" transform="translate(648.5 168) rotate(-1)" fill="#ebbc98" stroke="#5e3a28" stroke-width="1"/>
  <rect x="-14.3" y="-20" width="28.6" height="40" rx="1.5" transform="translate(638.3 167.3) rotate(-11)" fill="#fcfbf8" stroke="#4f3024" stroke-width="1.1"/>
  <path d="M637.5,158.6 L640.1,164 L646,164.5 L641.7,168.4 L643.2,174.2 L638,171.2 L632.6,174.3 L634,168.5 L629.5,164.8 L635.4,164.2 Z" fill="#f2c164" stroke="#6d4a30" stroke-width="0.8"/>
</g>

<g id="book" stroke-linejoin="round" stroke-linecap="round">
  <path d="M619,261 L650.5,264 L682.3,259 L682.3,296.4 L651,301.5 L619,298 Z" fill="#c66f46" stroke="#5a2f1e" stroke-width="1"/>
  <path d="M621.5,259 L650.5,263 L650.8,299 L621.5,295.5 Z" fill="#e4e1dc" stroke="#6a4a3a" stroke-width="0.6"/>
  <path d="M679.8,257 L651,263 L651.2,299 L679.8,294 Z" fill="#e4e1dc" stroke="#6a4a3a" stroke-width="0.6"/>
  <path d="M625.2,255.7 Q638,254 650.3,262.5 L651.4,297 Q639,291 625.2,292 Z" fill="#fbf8f2" stroke="#5a3a2a" stroke-width="1"/>
  <path d="M651,262.5 Q662,253.5 673.8,253.3 L675.3,291.6 Q662,291 651.4,297 Z" fill="#fbf8f2" stroke="#5a3a2a" stroke-width="1"/>
  <rect x="629.6" y="262.4" width="4.8" height="4.4" fill="#e9e7e4" stroke="#8a8580" stroke-width="0.7"/>
  <path d="M637,263.2 L646,265.3 M637,266.5 L646,268.3 M630,270.8 L646.5,272.5 M630,275 L646.5,276.5 M630,279.2 L646.8,280.6 M630,283.4 L647,284.6 M630,287.5 L647,288.6" stroke="#938c86" stroke-width="0.8"/>
  <path d="M655,264 L670,259 M655,268 L670.5,263.3 M655.2,272 L670.8,267.6 M655.4,276 L671,272 M655.6,280 L671.3,276.4 M656,284.3 L663,282.5 M655.8,288.5 L658,288" stroke="#938c86" stroke-width="0.8"/>
  <path d="M665.2,284 Q666,281.5 667,283.5 Q668,281.5 669,283 L670.2,282" stroke="#6a5a50" stroke-width="0.6" fill="none"/>
</g>

<g id="night" stroke-linejoin="round" stroke-linecap="round">
  <rect x="611.6" y="339.4" width="77.7" height="86.6" rx="4.5" fill="url(#nightglowr)"/>
  <rect x="611.6" y="339.4" width="77.7" height="86.6" rx="4.5" fill="url(#hatch)" opacity="0.12"/>
  <path d="M673,347.5 A9.5,9.5 0 1 1 664.9,362 A8.3,8.3 0 0 0 673,347.5 Z" fill="#f7e3ad" stroke="#7a5a3e" stroke-width="0.7"/>
  <circle cx="625.3" cy="356" r="1" fill="#f2d99a"/>
  <circle cx="632.7" cy="347.1" r="0.9" fill="#f2d99a"/>
  <circle cx="650.7" cy="347.8" r="0.9" fill="#f2d99a"/>
  <circle cx="619.9" cy="395.2" r="0.9" fill="#f2d99a"/>
  <circle cx="679.5" cy="381.4" r="0.9" fill="#f2d99a"/>
  <path d="M627,371 L657,361 L676,401 L648,414 Z" fill="#3a4c78" opacity="0.18"/>
  <path d="M644.5,410.8 L672.6,399 L674.6,402.3 L646.8,414.6 Z" fill="#b47a55" stroke="#5a2f1e" stroke-width="0.8"/>
  <path d="M645,408.3 L672.5,396.8 L673.6,400 L646,411.8 Z" fill="#f3f1ec" stroke="#6a3f2a" stroke-width="0.7"/>
  <path d="M625,368.4 L654.8,359 Q656,358.8 656.5,360 L672.8,396.5 Q673,398 671.8,398.5 L645.4,409.8 Q644.2,410.2 643.8,409 L624.2,370 Q624,368.8 625,368.4 Z" fill="url(#bookcover)" stroke="#5a2f1e" stroke-width="1"/>
  <path d="M624.2,370 L627.2,369 L646.6,408.9 L643.8,409.9 Z" fill="#a8683f" stroke="#5a2f1e" stroke-width="0.6"/>
  <path d="M647.6,370 A8,8 0 1 0 655.2,381.5 A7,7 0 0 1 647.6,370 Z" fill="#f7e4b6" stroke="#8a5a3a" stroke-width="0.7"/>
  <path d="M647.9,408.5 L649.4,417.8 L650.7,415.8 L652.6,417.2 L651.6,407 Z" fill="#d9805a" stroke="#6a3320" stroke-width="0.7"/>
</g>

<clipPath id="ac1"><path d="M209.50,54.50C213.6,52.3 217.7,50.2 221.7,48.2C225.8,46.3 229.9,44.5 234.0,42.9C238.0,41.3 242.1,39.8 246.2,38.4C250.3,37.1 254.3,35.9 258.4,34.8C262.5,33.7 266.6,32.8 270.6,31.9C274.7,31.1 278.8,30.4 282.9,29.8C286.9,29.2 291.0,28.7 295.1,28.4C299.2,28.0 303.2,27.7 307.3,27.5C311.4,27.4 315.5,27.3 319.5,27.4C323.6,27.4 327.7,27.6 331.8,27.9C335.8,28.3 339.9,28.7 344.0,29.3C348.1,29.9 352.1,30.6 356.2,31.5C360.3,32.4 364.4,33.5 368.4,34.7C372.5,35.9 376.6,37.2 380.7,38.7C384.7,40.1 388.8,41.6 392.9,43.2C397.0,44.7 401.0,46.4 405.1,48.0C409.2,49.6 413.3,51.3 417.3,52.9C421.4,54.5 425.5,56.1 429.6,57.6C433.6,59.1 437.7,60.6 441.8,61.9C445.9,63.2 449.9,64.4 454.0,65.5C458.1,66.6 462.2,67.5 466.2,68.3C470.3,69.1 474.4,69.8 478.5,70.3C482.5,70.8 486.6,71.2 490.7,71.5C494.8,71.8 498.8,71.9 502.9,71.9C507.0,71.9 511.1,71.7 515.1,71.5C519.2,71.2 523.3,70.8 527.4,70.3C531.4,69.7 535.5,69.1 539.6,68.3L530.40,46.80L588.20,69.90L539.60,108.00L543.50,84.30C539.5,85.2 535.5,85.9 531.5,86.6C527.5,87.3 523.5,88.0 519.4,88.5C515.4,89.0 511.4,89.4 507.4,89.8C503.4,90.1 499.4,90.3 495.4,90.5C491.4,90.6 487.4,90.6 483.4,90.5C479.4,90.4 475.3,90.2 471.3,89.9C467.3,89.6 463.3,89.1 459.3,88.5C455.3,88.0 451.3,87.3 447.3,86.4C443.3,85.6 439.3,84.6 435.2,83.6C431.2,82.5 427.2,81.4 423.2,80.2C419.2,79.0 415.2,77.7 411.2,76.3C407.2,75.0 403.2,73.6 399.2,72.3C395.2,70.9 391.1,69.5 387.1,68.1C383.1,66.7 379.1,65.4 375.1,64.1C371.1,62.8 367.1,61.6 363.1,60.4C359.1,59.3 355.1,58.3 351.1,57.3C347.0,56.4 343.0,55.6 339.0,54.9C335.0,54.2 331.0,53.7 327.0,53.2C323.0,52.8 319.0,52.5 315.0,52.4C311.0,52.2 307.0,52.3 302.9,52.4C298.9,52.6 294.9,52.9 290.9,53.4C286.9,53.9 282.9,54.6 278.9,55.5C274.9,56.3 270.9,57.4 266.9,58.6C262.9,59.9 258.8,61.3 254.8,63.0C250.8,64.6 246.8,66.5 242.8,68.5C238.8,70.6 234.8,72.9 230.8,75.4C226.8,78.0 222.8,80.7 218.8,83.8L233.75,58.75Z"/></clipPath>
<path d="M209.50,54.50C213.6,52.3 217.7,50.2 221.7,48.2C225.8,46.3 229.9,44.5 234.0,42.9C238.0,41.3 242.1,39.8 246.2,38.4C250.3,37.1 254.3,35.9 258.4,34.8C262.5,33.7 266.6,32.8 270.6,31.9C274.7,31.1 278.8,30.4 282.9,29.8C286.9,29.2 291.0,28.7 295.1,28.4C299.2,28.0 303.2,27.7 307.3,27.5C311.4,27.4 315.5,27.3 319.5,27.4C323.6,27.4 327.7,27.6 331.8,27.9C335.8,28.3 339.9,28.7 344.0,29.3C348.1,29.9 352.1,30.6 356.2,31.5C360.3,32.4 364.4,33.5 368.4,34.7C372.5,35.9 376.6,37.2 380.7,38.7C384.7,40.1 388.8,41.6 392.9,43.2C397.0,44.7 401.0,46.4 405.1,48.0C409.2,49.6 413.3,51.3 417.3,52.9C421.4,54.5 425.5,56.1 429.6,57.6C433.6,59.1 437.7,60.6 441.8,61.9C445.9,63.2 449.9,64.4 454.0,65.5C458.1,66.6 462.2,67.5 466.2,68.3C470.3,69.1 474.4,69.8 478.5,70.3C482.5,70.8 486.6,71.2 490.7,71.5C494.8,71.8 498.8,71.9 502.9,71.9C507.0,71.9 511.1,71.7 515.1,71.5C519.2,71.2 523.3,70.8 527.4,70.3C531.4,69.7 535.5,69.1 539.6,68.3L530.40,46.80L588.20,69.90L539.60,108.00L543.50,84.30C539.5,85.2 535.5,85.9 531.5,86.6C527.5,87.3 523.5,88.0 519.4,88.5C515.4,89.0 511.4,89.4 507.4,89.8C503.4,90.1 499.4,90.3 495.4,90.5C491.4,90.6 487.4,90.6 483.4,90.5C479.4,90.4 475.3,90.2 471.3,89.9C467.3,89.6 463.3,89.1 459.3,88.5C455.3,88.0 451.3,87.3 447.3,86.4C443.3,85.6 439.3,84.6 435.2,83.6C431.2,82.5 427.2,81.4 423.2,80.2C419.2,79.0 415.2,77.7 411.2,76.3C407.2,75.0 403.2,73.6 399.2,72.3C395.2,70.9 391.1,69.5 387.1,68.1C383.1,66.7 379.1,65.4 375.1,64.1C371.1,62.8 367.1,61.6 363.1,60.4C359.1,59.3 355.1,58.3 351.1,57.3C347.0,56.4 343.0,55.6 339.0,54.9C335.0,54.2 331.0,53.7 327.0,53.2C323.0,52.8 319.0,52.5 315.0,52.4C311.0,52.2 307.0,52.3 302.9,52.4C298.9,52.6 294.9,52.9 290.9,53.4C286.9,53.9 282.9,54.6 278.9,55.5C274.9,56.3 270.9,57.4 266.9,58.6C262.9,59.9 258.8,61.3 254.8,63.0C250.8,64.6 246.8,66.5 242.8,68.5C238.8,70.6 234.8,72.9 230.8,75.4C226.8,78.0 222.8,80.7 218.8,83.8L233.75,58.75Z" fill="url(#g1)"/>
<g clip-path="url(#ac1)"><path d="M245.0,50.8C249.1,49.3 253.1,47.9 257.2,46.6C261.2,45.4 265.3,44.3 269.3,43.3C273.4,42.3 277.5,41.5 281.5,40.8C285.6,40.2 289.6,39.6 293.7,39.2C297.8,38.8 301.8,38.5 305.9,38.4C309.9,38.2 314.0,38.2 318.0,38.3C322.1,38.4 326.2,38.7 330.2,39.1C334.3,39.4 338.3,39.9 342.4,40.5C346.4,41.1 350.5,41.9 354.6,42.7C358.6,43.6 362.7,44.5 366.7,45.6C370.8,46.7 374.9,47.9 378.9,49.2C383.0,50.5 387.0,51.9 391.1,53.4C395.1,54.9 399.2,56.5 403.3,58.1C407.3,59.7 411.4,61.3 415.4,62.9C419.5,64.5 423.6,66.0 427.6,67.4C431.7,68.8 435.7,70.1 439.8,71.3C443.8,72.5 447.9,73.6 452.0,74.5C456.0,75.5 460.1,76.3 464.1,76.9C468.2,77.5 472.2,78.0 476.3,78.3C480.4,78.7 484.4,78.9 488.5,78.9C492.5,79.0 496.6,79.0 500.7,78.8C504.7,78.7 508.8,78.4 512.8,78.0C516.9,77.7 520.9,77.3 525.0,76.8" fill="none" stroke="#fbe8cc" stroke-width="9" stroke-linecap="round" opacity="0.3" filter="url(#soft)"/></g>
<path d="M209.50,54.50C213.6,52.3 217.7,50.2 221.7,48.2C225.8,46.3 229.9,44.5 234.0,42.9C238.0,41.3 242.1,39.8 246.2,38.4C250.3,37.1 254.3,35.9 258.4,34.8C262.5,33.7 266.6,32.8 270.6,31.9C274.7,31.1 278.8,30.4 282.9,29.8C286.9,29.2 291.0,28.7 295.1,28.4C299.2,28.0 303.2,27.7 307.3,27.5C311.4,27.4 315.5,27.3 319.5,27.4C323.6,27.4 327.7,27.6 331.8,27.9C335.8,28.3 339.9,28.7 344.0,29.3C348.1,29.9 352.1,30.6 356.2,31.5C360.3,32.4 364.4,33.5 368.4,34.7C372.5,35.9 376.6,37.2 380.7,38.7C384.7,40.1 388.8,41.6 392.9,43.2C397.0,44.7 401.0,46.4 405.1,48.0C409.2,49.6 413.3,51.3 417.3,52.9C421.4,54.5 425.5,56.1 429.6,57.6C433.6,59.1 437.7,60.6 441.8,61.9C445.9,63.2 449.9,64.4 454.0,65.5C458.1,66.6 462.2,67.5 466.2,68.3C470.3,69.1 474.4,69.8 478.5,70.3C482.5,70.8 486.6,71.2 490.7,71.5C494.8,71.8 498.8,71.9 502.9,71.9C507.0,71.9 511.1,71.7 515.1,71.5C519.2,71.2 523.3,70.8 527.4,70.3C531.4,69.7 535.5,69.1 539.6,68.3L530.40,46.80L588.20,69.90L539.60,108.00L543.50,84.30C539.5,85.2 535.5,85.9 531.5,86.6C527.5,87.3 523.5,88.0 519.4,88.5C515.4,89.0 511.4,89.4 507.4,89.8C503.4,90.1 499.4,90.3 495.4,90.5C491.4,90.6 487.4,90.6 483.4,90.5C479.4,90.4 475.3,90.2 471.3,89.9C467.3,89.6 463.3,89.1 459.3,88.5C455.3,88.0 451.3,87.3 447.3,86.4C443.3,85.6 439.3,84.6 435.2,83.6C431.2,82.5 427.2,81.4 423.2,80.2C419.2,79.0 415.2,77.7 411.2,76.3C407.2,75.0 403.2,73.6 399.2,72.3C395.2,70.9 391.1,69.5 387.1,68.1C383.1,66.7 379.1,65.4 375.1,64.1C371.1,62.8 367.1,61.6 363.1,60.4C359.1,59.3 355.1,58.3 351.1,57.3C347.0,56.4 343.0,55.6 339.0,54.9C335.0,54.2 331.0,53.7 327.0,53.2C323.0,52.8 319.0,52.5 315.0,52.4C311.0,52.2 307.0,52.3 302.9,52.4C298.9,52.6 294.9,52.9 290.9,53.4C286.9,53.9 282.9,54.6 278.9,55.5C274.9,56.3 270.9,57.4 266.9,58.6C262.9,59.9 258.8,61.3 254.8,63.0C250.8,64.6 246.8,66.5 242.8,68.5C238.8,70.6 234.8,72.9 230.8,75.4C226.8,78.0 222.8,80.7 218.8,83.8L233.75,58.75Z" fill="none" stroke="#55260f" stroke-width="1.9" stroke-linejoin="round"/>
<clipPath id="ac2"><path d="M209.50,158.75C213.6,156.9 217.7,155.2 221.9,153.6C226.0,152.0 230.1,150.5 234.2,149.2C238.4,147.9 242.5,146.7 246.6,145.6C250.7,144.5 254.9,143.6 259.0,142.7C263.1,141.9 267.2,141.2 271.4,140.6C275.5,140.0 279.6,139.5 283.7,139.1C287.8,138.8 292.0,138.5 296.1,138.4C300.2,138.2 304.3,138.2 308.5,138.3C312.6,138.3 316.7,138.5 320.8,138.8C325.0,139.1 329.1,139.4 333.2,139.9C337.3,140.4 341.5,141.0 345.6,141.6C349.7,142.3 353.8,143.1 357.9,143.9C362.1,144.8 366.2,145.7 370.3,146.7C374.4,147.8 378.6,148.9 382.7,150.0C386.8,151.2 390.9,152.4 395.1,153.6C399.2,154.8 403.3,156.0 407.4,157.3C411.5,158.5 415.7,159.7 419.8,160.9C423.9,162.1 428.0,163.3 432.2,164.4C436.3,165.6 440.4,166.6 444.5,167.6C448.7,168.6 452.8,169.5 456.9,170.3C461.0,171.1 465.2,171.8 469.3,172.4C473.4,173.0 477.5,173.5 481.6,173.9C485.8,174.3 489.9,174.6 494.0,174.8C498.1,175.0 502.3,175.0 506.4,175.0C510.5,174.9 514.6,174.7 518.8,174.4C522.9,174.1 527.0,173.6 531.1,173.1C535.3,172.5 539.4,171.8 543.5,170.9L535.70,148.90L589.00,172.50L541.70,208.70L546.20,186.40C542.1,187.1 538.1,187.8 534.0,188.5C529.9,189.1 525.8,189.7 521.8,190.2C517.7,190.8 513.6,191.2 509.5,191.6C505.5,192.0 501.4,192.3 497.3,192.5C493.2,192.6 489.2,192.7 485.1,192.7C481.0,192.7 477.0,192.5 472.9,192.2C468.8,191.9 464.7,191.5 460.7,191.0C456.6,190.5 452.5,189.9 448.4,189.3C444.4,188.6 440.3,187.8 436.2,187.0C432.1,186.2 428.1,185.3 424.0,184.4C419.9,183.5 415.8,182.6 411.8,181.6C407.7,180.6 403.6,179.6 399.6,178.6C395.5,177.6 391.4,176.6 387.3,175.7C383.3,174.7 379.2,173.7 375.1,172.8C371.0,171.9 367.0,171.0 362.9,170.1C358.8,169.3 354.7,168.5 350.7,167.7C346.6,167.0 342.5,166.3 338.5,165.7C334.4,165.1 330.3,164.6 326.2,164.2C322.2,163.8 318.1,163.4 314.0,163.2C309.9,163.0 305.9,162.9 301.8,162.9C297.7,162.9 293.6,163.1 289.6,163.3C285.5,163.6 281.4,164.0 277.4,164.6C273.3,165.2 269.2,165.9 265.1,166.8C261.1,167.8 257.0,168.8 252.9,170.1C248.8,171.4 244.8,172.8 240.7,174.5C236.6,176.1 232.5,178.0 228.5,180.1C224.4,182.2 220.3,184.5 216.2,187.0L232.50,164.50Z"/></clipPath>
<path d="M209.50,158.75C213.6,156.9 217.7,155.2 221.9,153.6C226.0,152.0 230.1,150.5 234.2,149.2C238.4,147.9 242.5,146.7 246.6,145.6C250.7,144.5 254.9,143.6 259.0,142.7C263.1,141.9 267.2,141.2 271.4,140.6C275.5,140.0 279.6,139.5 283.7,139.1C287.8,138.8 292.0,138.5 296.1,138.4C300.2,138.2 304.3,138.2 308.5,138.3C312.6,138.3 316.7,138.5 320.8,138.8C325.0,139.1 329.1,139.4 333.2,139.9C337.3,140.4 341.5,141.0 345.6,141.6C349.7,142.3 353.8,143.1 357.9,143.9C362.1,144.8 366.2,145.7 370.3,146.7C374.4,147.8 378.6,148.9 382.7,150.0C386.8,151.2 390.9,152.4 395.1,153.6C399.2,154.8 403.3,156.0 407.4,157.3C411.5,158.5 415.7,159.7 419.8,160.9C423.9,162.1 428.0,163.3 432.2,164.4C436.3,165.6 440.4,166.6 444.5,167.6C448.7,168.6 452.8,169.5 456.9,170.3C461.0,171.1 465.2,171.8 469.3,172.4C473.4,173.0 477.5,173.5 481.6,173.9C485.8,174.3 489.9,174.6 494.0,174.8C498.1,175.0 502.3,175.0 506.4,175.0C510.5,174.9 514.6,174.7 518.8,174.4C522.9,174.1 527.0,173.6 531.1,173.1C535.3,172.5 539.4,171.8 543.5,170.9L535.70,148.90L589.00,172.50L541.70,208.70L546.20,186.40C542.1,187.1 538.1,187.8 534.0,188.5C529.9,189.1 525.8,189.7 521.8,190.2C517.7,190.8 513.6,191.2 509.5,191.6C505.5,192.0 501.4,192.3 497.3,192.5C493.2,192.6 489.2,192.7 485.1,192.7C481.0,192.7 477.0,192.5 472.9,192.2C468.8,191.9 464.7,191.5 460.7,191.0C456.6,190.5 452.5,189.9 448.4,189.3C444.4,188.6 440.3,187.8 436.2,187.0C432.1,186.2 428.1,185.3 424.0,184.4C419.9,183.5 415.8,182.6 411.8,181.6C407.7,180.6 403.6,179.6 399.6,178.6C395.5,177.6 391.4,176.6 387.3,175.7C383.3,174.7 379.2,173.7 375.1,172.8C371.0,171.9 367.0,171.0 362.9,170.1C358.8,169.3 354.7,168.5 350.7,167.7C346.6,167.0 342.5,166.3 338.5,165.7C334.4,165.1 330.3,164.6 326.2,164.2C322.2,163.8 318.1,163.4 314.0,163.2C309.9,163.0 305.9,162.9 301.8,162.9C297.7,162.9 293.6,163.1 289.6,163.3C285.5,163.6 281.4,164.0 277.4,164.6C273.3,165.2 269.2,165.9 265.1,166.8C261.1,167.8 257.0,168.8 252.9,170.1C248.8,171.4 244.8,172.8 240.7,174.5C236.6,176.1 232.5,178.0 228.5,180.1C224.4,182.2 220.3,184.5 216.2,187.0L232.50,164.50Z" fill="url(#g2)"/>
<g clip-path="url(#ac2)"><path d="M245.0,157.7C249.1,156.6 253.1,155.6 257.2,154.6C261.2,153.7 265.3,152.9 269.3,152.2C273.4,151.5 277.5,150.9 281.5,150.4C285.6,149.9 289.6,149.5 293.7,149.2C297.8,148.9 301.8,148.8 305.9,148.7C309.9,148.7 314.0,148.8 318.0,149.0C322.1,149.2 326.2,149.5 330.2,149.9C334.3,150.3 338.3,150.9 342.4,151.5C346.4,152.2 350.5,152.9 354.6,153.7C358.6,154.5 362.7,155.4 366.7,156.4C370.8,157.4 374.9,158.4 378.9,159.5C383.0,160.5 387.0,161.7 391.1,162.8C395.1,164.0 399.2,165.1 403.3,166.3C407.3,167.5 411.4,168.6 415.4,169.7C419.5,170.8 423.6,171.9 427.6,172.9C431.7,173.9 435.7,174.8 439.8,175.6C443.8,176.4 447.9,177.2 452.0,177.9C456.0,178.5 460.1,179.1 464.1,179.6C468.2,180.1 472.2,180.5 476.3,180.8C480.4,181.1 484.4,181.3 488.5,181.4C492.5,181.6 496.6,181.6 500.7,181.5C504.7,181.5 508.8,181.3 512.8,181.1C516.9,180.8 520.9,180.5 525.0,180.1" fill="none" stroke="#fbe8cc" stroke-width="9" stroke-linecap="round" opacity="0.3" filter="url(#soft)"/></g>
<path d="M209.50,158.75C213.6,156.9 217.7,155.2 221.9,153.6C226.0,152.0 230.1,150.5 234.2,149.2C238.4,147.9 242.5,146.7 246.6,145.6C250.7,144.5 254.9,143.6 259.0,142.7C263.1,141.9 267.2,141.2 271.4,140.6C275.5,140.0 279.6,139.5 283.7,139.1C287.8,138.8 292.0,138.5 296.1,138.4C300.2,138.2 304.3,138.2 308.5,138.3C312.6,138.3 316.7,138.5 320.8,138.8C325.0,139.1 329.1,139.4 333.2,139.9C337.3,140.4 341.5,141.0 345.6,141.6C349.7,142.3 353.8,143.1 357.9,143.9C362.1,144.8 366.2,145.7 370.3,146.7C374.4,147.8 378.6,148.9 382.7,150.0C386.8,151.2 390.9,152.4 395.1,153.6C399.2,154.8 403.3,156.0 407.4,157.3C411.5,158.5 415.7,159.7 419.8,160.9C423.9,162.1 428.0,163.3 432.2,164.4C436.3,165.6 440.4,166.6 444.5,167.6C448.7,168.6 452.8,169.5 456.9,170.3C461.0,171.1 465.2,171.8 469.3,172.4C473.4,173.0 477.5,173.5 481.6,173.9C485.8,174.3 489.9,174.6 494.0,174.8C498.1,175.0 502.3,175.0 506.4,175.0C510.5,174.9 514.6,174.7 518.8,174.4C522.9,174.1 527.0,173.6 531.1,173.1C535.3,172.5 539.4,171.8 543.5,170.9L535.70,148.90L589.00,172.50L541.70,208.70L546.20,186.40C542.1,187.1 538.1,187.8 534.0,188.5C529.9,189.1 525.8,189.7 521.8,190.2C517.7,190.8 513.6,191.2 509.5,191.6C505.5,192.0 501.4,192.3 497.3,192.5C493.2,192.6 489.2,192.7 485.1,192.7C481.0,192.7 477.0,192.5 472.9,192.2C468.8,191.9 464.7,191.5 460.7,191.0C456.6,190.5 452.5,189.9 448.4,189.3C444.4,188.6 440.3,187.8 436.2,187.0C432.1,186.2 428.1,185.3 424.0,184.4C419.9,183.5 415.8,182.6 411.8,181.6C407.7,180.6 403.6,179.6 399.6,178.6C395.5,177.6 391.4,176.6 387.3,175.7C383.3,174.7 379.2,173.7 375.1,172.8C371.0,171.9 367.0,171.0 362.9,170.1C358.8,169.3 354.7,168.5 350.7,167.7C346.6,167.0 342.5,166.3 338.5,165.7C334.4,165.1 330.3,164.6 326.2,164.2C322.2,163.8 318.1,163.4 314.0,163.2C309.9,163.0 305.9,162.9 301.8,162.9C297.7,162.9 293.6,163.1 289.6,163.3C285.5,163.6 281.4,164.0 277.4,164.6C273.3,165.2 269.2,165.9 265.1,166.8C261.1,167.8 257.0,168.8 252.9,170.1C248.8,171.4 244.8,172.8 240.7,174.5C236.6,176.1 232.5,178.0 228.5,180.1C224.4,182.2 220.3,184.5 216.2,187.0L232.50,164.50Z" fill="none" stroke="#55260f" stroke-width="1.9" stroke-linejoin="round"/>
<clipPath id="ac3"><path d="M210.50,264.50C214.6,262.4 218.7,260.4 222.8,258.5C226.9,256.7 230.9,255.0 235.0,253.4C239.1,251.9 243.2,250.5 247.3,249.2C251.4,247.9 255.5,246.8 259.6,245.7C263.7,244.7 267.7,243.8 271.8,243.0C275.9,242.2 280.0,241.5 284.1,240.9C288.2,240.4 292.3,239.9 296.4,239.5C300.5,239.1 304.5,238.9 308.6,238.7C312.7,238.5 316.8,238.4 320.9,238.5C325.0,238.5 329.1,238.7 333.2,239.0C337.3,239.3 341.3,239.7 345.4,240.3C349.5,240.9 353.6,241.7 357.7,242.6C361.8,243.5 365.9,244.6 370.0,245.9C374.1,247.1 378.1,248.6 382.2,250.2C386.3,251.9 390.4,253.6 394.5,255.5C398.6,257.3 402.7,259.2 406.8,261.0C410.9,262.8 414.9,264.7 419.0,266.4C423.1,268.1 427.2,269.6 431.3,271.1C435.4,272.5 439.5,273.8 443.6,275.0C447.7,276.2 451.7,277.2 455.8,278.0C459.9,278.9 464.0,279.6 468.1,280.2C472.2,280.8 476.3,281.3 480.4,281.6C484.5,282.0 488.5,282.2 492.6,282.3C496.7,282.5 500.8,282.5 504.9,282.4C509.0,282.4 513.1,282.2 517.2,282.0C521.3,281.8 525.3,281.5 529.4,281.2C533.5,280.8 537.6,280.4 541.7,280.0L533.80,258.30L588.20,279.90L540.90,319.20L546.20,296.50C542.1,297.3 538.1,298.0 534.0,298.7C529.9,299.3 525.8,299.9 521.8,300.4C517.7,300.9 513.6,301.3 509.5,301.6C505.5,301.9 501.4,302.2 497.3,302.3C493.2,302.4 489.2,302.4 485.1,302.3C481.0,302.2 477.0,302.0 472.9,301.7C468.8,301.3 464.7,300.9 460.7,300.3C456.6,299.7 452.5,299.0 448.4,298.2C444.4,297.4 440.3,296.5 436.2,295.5C432.1,294.5 428.1,293.4 424.0,292.2C419.9,291.0 415.8,289.7 411.8,288.3C407.7,286.9 403.6,285.5 399.6,284.0C395.5,282.5 391.4,281.0 387.3,279.5C383.3,278.0 379.2,276.6 375.1,275.1C371.0,273.7 367.0,272.4 362.9,271.1C358.8,269.8 354.7,268.6 350.7,267.5C346.6,266.5 342.5,265.5 338.5,264.6C334.4,263.8 330.3,263.0 326.2,262.4C322.2,261.8 318.1,261.4 314.0,261.1C309.9,260.9 305.9,260.8 301.8,260.8C297.7,260.9 293.6,261.2 289.6,261.7C285.5,262.2 281.4,262.9 277.4,263.7C273.3,264.6 269.2,265.7 265.1,266.9C261.1,268.2 257.0,269.6 252.9,271.3C248.8,272.9 244.8,274.7 240.7,276.8C236.6,278.8 232.5,281.0 228.5,283.4C224.4,285.9 220.3,288.5 216.2,291.2L232.50,267.00Z"/></clipPath>
<path d="M210.50,264.50C214.6,262.4 218.7,260.4 222.8,258.5C226.9,256.7 230.9,255.0 235.0,253.4C239.1,251.9 243.2,250.5 247.3,249.2C251.4,247.9 255.5,246.8 259.6,245.7C263.7,244.7 267.7,243.8 271.8,243.0C275.9,242.2 280.0,241.5 284.1,240.9C288.2,240.4 292.3,239.9 296.4,239.5C300.5,239.1 304.5,238.9 308.6,238.7C312.7,238.5 316.8,238.4 320.9,238.5C325.0,238.5 329.1,238.7 333.2,239.0C337.3,239.3 341.3,239.7 345.4,240.3C349.5,240.9 353.6,241.7 357.7,242.6C361.8,243.5 365.9,244.6 370.0,245.9C374.1,247.1 378.1,248.6 382.2,250.2C386.3,251.9 390.4,253.6 394.5,255.5C398.6,257.3 402.7,259.2 406.8,261.0C410.9,262.8 414.9,264.7 419.0,266.4C423.1,268.1 427.2,269.6 431.3,271.1C435.4,272.5 439.5,273.8 443.6,275.0C447.7,276.2 451.7,277.2 455.8,278.0C459.9,278.9 464.0,279.6 468.1,280.2C472.2,280.8 476.3,281.3 480.4,281.6C484.5,282.0 488.5,282.2 492.6,282.3C496.7,282.5 500.8,282.5 504.9,282.4C509.0,282.4 513.1,282.2 517.2,282.0C521.3,281.8 525.3,281.5 529.4,281.2C533.5,280.8 537.6,280.4 541.7,280.0L533.80,258.30L588.20,279.90L540.90,319.20L546.20,296.50C542.1,297.3 538.1,298.0 534.0,298.7C529.9,299.3 525.8,299.9 521.8,300.4C517.7,300.9 513.6,301.3 509.5,301.6C505.5,301.9 501.4,302.2 497.3,302.3C493.2,302.4 489.2,302.4 485.1,302.3C481.0,302.2 477.0,302.0 472.9,301.7C468.8,301.3 464.7,300.9 460.7,300.3C456.6,299.7 452.5,299.0 448.4,298.2C444.4,297.4 440.3,296.5 436.2,295.5C432.1,294.5 428.1,293.4 424.0,292.2C419.9,291.0 415.8,289.7 411.8,288.3C407.7,286.9 403.6,285.5 399.6,284.0C395.5,282.5 391.4,281.0 387.3,279.5C383.3,278.0 379.2,276.6 375.1,275.1C371.0,273.7 367.0,272.4 362.9,271.1C358.8,269.8 354.7,268.6 350.7,267.5C346.6,266.5 342.5,265.5 338.5,264.6C334.4,263.8 330.3,263.0 326.2,262.4C322.2,261.8 318.1,261.4 314.0,261.1C309.9,260.9 305.9,260.8 301.8,260.8C297.7,260.9 293.6,261.2 289.6,261.7C285.5,262.2 281.4,262.9 277.4,263.7C273.3,264.6 269.2,265.7 265.1,266.9C261.1,268.2 257.0,269.6 252.9,271.3C248.8,272.9 244.8,274.7 240.7,276.8C236.6,278.8 232.5,281.0 228.5,283.4C224.4,285.9 220.3,288.5 216.2,291.2L232.50,267.00Z" fill="url(#g3)"/>
<g clip-path="url(#ac3)"><path d="M245.0,260.4C249.1,259.1 253.1,257.9 257.2,256.8C261.2,255.7 265.3,254.7 269.3,253.7C273.4,252.8 277.5,251.9 281.5,251.2C285.6,250.5 289.6,249.9 293.7,249.4C297.8,248.9 301.8,248.5 305.9,248.3C309.9,248.1 314.0,248.0 318.0,248.1C322.1,248.2 326.2,248.4 330.2,248.8C334.3,249.2 338.3,249.8 342.4,250.5C346.4,251.2 350.5,252.1 354.6,253.1C358.6,254.1 362.7,255.2 366.7,256.5C370.8,257.7 374.9,259.1 378.9,260.6C383.0,262.1 387.0,263.7 391.1,265.3C395.1,267.0 399.2,268.7 403.3,270.4C407.3,272.1 411.4,273.8 415.4,275.4C419.5,277.0 423.6,278.5 427.6,279.8C431.7,281.1 435.7,282.3 439.8,283.3C443.8,284.3 447.9,285.2 452.0,286.0C456.0,286.7 460.1,287.4 464.1,287.9C468.2,288.5 472.2,288.9 476.3,289.3C480.4,289.6 484.4,289.9 488.5,290.0C492.5,290.2 496.6,290.3 500.7,290.2C504.7,290.2 508.8,290.1 512.8,289.9C516.9,289.8 520.9,289.5 525.0,289.1" fill="none" stroke="#fbe8cc" stroke-width="9" stroke-linecap="round" opacity="0.3" filter="url(#soft)"/></g>
<path d="M210.50,264.50C214.6,262.4 218.7,260.4 222.8,258.5C226.9,256.7 230.9,255.0 235.0,253.4C239.1,251.9 243.2,250.5 247.3,249.2C251.4,247.9 255.5,246.8 259.6,245.7C263.7,244.7 267.7,243.8 271.8,243.0C275.9,242.2 280.0,241.5 284.1,240.9C288.2,240.4 292.3,239.9 296.4,239.5C300.5,239.1 304.5,238.9 308.6,238.7C312.7,238.5 316.8,238.4 320.9,238.5C325.0,238.5 329.1,238.7 333.2,239.0C337.3,239.3 341.3,239.7 345.4,240.3C349.5,240.9 353.6,241.7 357.7,242.6C361.8,243.5 365.9,244.6 370.0,245.9C374.1,247.1 378.1,248.6 382.2,250.2C386.3,251.9 390.4,253.6 394.5,255.5C398.6,257.3 402.7,259.2 406.8,261.0C410.9,262.8 414.9,264.7 419.0,266.4C423.1,268.1 427.2,269.6 431.3,271.1C435.4,272.5 439.5,273.8 443.6,275.0C447.7,276.2 451.7,277.2 455.8,278.0C459.9,278.9 464.0,279.6 468.1,280.2C472.2,280.8 476.3,281.3 480.4,281.6C484.5,282.0 488.5,282.2 492.6,282.3C496.7,282.5 500.8,282.5 504.9,282.4C509.0,282.4 513.1,282.2 517.2,282.0C521.3,281.8 525.3,281.5 529.4,281.2C533.5,280.8 537.6,280.4 541.7,280.0L533.80,258.30L588.20,279.90L540.90,319.20L546.20,296.50C542.1,297.3 538.1,298.0 534.0,298.7C529.9,299.3 525.8,299.9 521.8,300.4C517.7,300.9 513.6,301.3 509.5,301.6C505.5,301.9 501.4,302.2 497.3,302.3C493.2,302.4 489.2,302.4 485.1,302.3C481.0,302.2 477.0,302.0 472.9,301.7C468.8,301.3 464.7,300.9 460.7,300.3C456.6,299.7 452.5,299.0 448.4,298.2C444.4,297.4 440.3,296.5 436.2,295.5C432.1,294.5 428.1,293.4 424.0,292.2C419.9,291.0 415.8,289.7 411.8,288.3C407.7,286.9 403.6,285.5 399.6,284.0C395.5,282.5 391.4,281.0 387.3,279.5C383.3,278.0 379.2,276.6 375.1,275.1C371.0,273.7 367.0,272.4 362.9,271.1C358.8,269.8 354.7,268.6 350.7,267.5C346.6,266.5 342.5,265.5 338.5,264.6C334.4,263.8 330.3,263.0 326.2,262.4C322.2,261.8 318.1,261.4 314.0,261.1C309.9,260.9 305.9,260.8 301.8,260.8C297.7,260.9 293.6,261.2 289.6,261.7C285.5,262.2 281.4,262.9 277.4,263.7C273.3,264.6 269.2,265.7 265.1,266.9C261.1,268.2 257.0,269.6 252.9,271.3C248.8,272.9 244.8,274.7 240.7,276.8C236.6,278.8 232.5,281.0 228.5,283.4C224.4,285.9 220.3,288.5 216.2,291.2L232.50,267.00Z" fill="none" stroke="#55260f" stroke-width="1.9" stroke-linejoin="round"/>
<clipPath id="ac4"><path d="M210.00,365.50C214.1,363.3 218.2,361.2 222.4,359.3C226.5,357.4 230.6,355.6 234.7,354.0C238.8,352.4 242.9,350.9 247.1,349.6C251.2,348.2 255.3,347.0 259.4,346.0C263.5,344.9 267.6,344.0 271.8,343.3C275.9,342.5 280.0,341.9 284.1,341.4C288.2,340.9 292.3,340.5 296.5,340.3C300.6,340.1 304.7,340.0 308.8,340.0C312.9,340.0 317.0,340.2 321.2,340.5C325.3,340.7 329.4,341.1 333.5,341.7C337.6,342.2 341.8,342.8 345.9,343.6C350.0,344.4 354.1,345.3 358.2,346.2C362.3,347.2 366.5,348.4 370.6,349.6C374.7,350.8 378.8,352.1 382.9,353.5C387.0,355.0 391.2,356.5 395.3,358.0C399.4,359.6 403.5,361.2 407.6,362.7C411.7,364.3 415.9,365.9 420.0,367.4C424.1,369.0 428.2,370.5 432.3,371.9C436.5,373.3 440.6,374.6 444.7,375.8C448.8,377.0 452.9,378.0 457.0,378.9C461.2,379.8 465.3,380.6 469.4,381.3C473.5,381.9 477.6,382.4 481.7,382.8C485.9,383.2 490.0,383.5 494.1,383.7C498.2,383.9 502.3,384.1 506.4,384.1C510.6,384.1 514.7,384.1 518.8,383.9C522.9,383.8 527.0,383.6 531.1,383.4C535.3,383.1 539.4,382.8 543.5,382.5L534.40,360.20L587.40,382.50L540.90,420.50L546.20,398.00C542.1,398.9 538.1,399.7 534.0,400.4C530.0,401.1 525.9,401.6 521.9,402.1C517.8,402.6 513.7,402.9 509.7,403.2C505.6,403.4 501.6,403.5 497.5,403.5C493.4,403.5 489.4,403.4 485.3,403.2C481.3,403.0 477.2,402.7 473.2,402.2C469.1,401.8 465.0,401.2 461.0,400.6C456.9,399.9 452.9,399.2 448.8,398.3C444.7,397.5 440.7,396.5 436.6,395.5C432.6,394.5 428.5,393.3 424.5,392.2C420.4,391.0 416.3,389.7 412.3,388.4C408.2,387.1 404.2,385.7 400.1,384.3C396.1,382.9 392.0,381.5 387.9,380.1C383.9,378.7 379.8,377.3 375.8,375.9C371.7,374.6 367.6,373.3 363.6,372.0C359.5,370.8 355.5,369.6 351.4,368.5C347.4,367.4 343.3,366.4 339.2,365.5C335.2,364.6 331.1,363.9 327.1,363.2C323.0,362.6 319.0,362.1 314.9,361.8C310.8,361.5 306.8,361.3 302.7,361.3C298.7,361.4 294.6,361.6 290.5,362.0C286.5,362.4 282.4,363.0 278.4,363.8C274.3,364.7 270.3,365.7 266.2,366.9C262.1,368.1 258.1,369.6 254.0,371.2C250.0,372.9 245.9,374.7 241.8,376.8C237.8,378.9 233.7,381.2 229.7,383.7C225.6,386.3 221.6,389.0 217.5,392.0L232.00,368.75Z"/></clipPath>
<path d="M210.00,365.50C214.1,363.3 218.2,361.2 222.4,359.3C226.5,357.4 230.6,355.6 234.7,354.0C238.8,352.4 242.9,350.9 247.1,349.6C251.2,348.2 255.3,347.0 259.4,346.0C263.5,344.9 267.6,344.0 271.8,343.3C275.9,342.5 280.0,341.9 284.1,341.4C288.2,340.9 292.3,340.5 296.5,340.3C300.6,340.1 304.7,340.0 308.8,340.0C312.9,340.0 317.0,340.2 321.2,340.5C325.3,340.7 329.4,341.1 333.5,341.7C337.6,342.2 341.8,342.8 345.9,343.6C350.0,344.4 354.1,345.3 358.2,346.2C362.3,347.2 366.5,348.4 370.6,349.6C374.7,350.8 378.8,352.1 382.9,353.5C387.0,355.0 391.2,356.5 395.3,358.0C399.4,359.6 403.5,361.2 407.6,362.7C411.7,364.3 415.9,365.9 420.0,367.4C424.1,369.0 428.2,370.5 432.3,371.9C436.5,373.3 440.6,374.6 444.7,375.8C448.8,377.0 452.9,378.0 457.0,378.9C461.2,379.8 465.3,380.6 469.4,381.3C473.5,381.9 477.6,382.4 481.7,382.8C485.9,383.2 490.0,383.5 494.1,383.7C498.2,383.9 502.3,384.1 506.4,384.1C510.6,384.1 514.7,384.1 518.8,383.9C522.9,383.8 527.0,383.6 531.1,383.4C535.3,383.1 539.4,382.8 543.5,382.5L534.40,360.20L587.40,382.50L540.90,420.50L546.20,398.00C542.1,398.9 538.1,399.7 534.0,400.4C530.0,401.1 525.9,401.6 521.9,402.1C517.8,402.6 513.7,402.9 509.7,403.2C505.6,403.4 501.6,403.5 497.5,403.5C493.4,403.5 489.4,403.4 485.3,403.2C481.3,403.0 477.2,402.7 473.2,402.2C469.1,401.8 465.0,401.2 461.0,400.6C456.9,399.9 452.9,399.2 448.8,398.3C444.7,397.5 440.7,396.5 436.6,395.5C432.6,394.5 428.5,393.3 424.5,392.2C420.4,391.0 416.3,389.7 412.3,388.4C408.2,387.1 404.2,385.7 400.1,384.3C396.1,382.9 392.0,381.5 387.9,380.1C383.9,378.7 379.8,377.3 375.8,375.9C371.7,374.6 367.6,373.3 363.6,372.0C359.5,370.8 355.5,369.6 351.4,368.5C347.4,367.4 343.3,366.4 339.2,365.5C335.2,364.6 331.1,363.9 327.1,363.2C323.0,362.6 319.0,362.1 314.9,361.8C310.8,361.5 306.8,361.3 302.7,361.3C298.7,361.4 294.6,361.6 290.5,362.0C286.5,362.4 282.4,363.0 278.4,363.8C274.3,364.7 270.3,365.7 266.2,366.9C262.1,368.1 258.1,369.6 254.0,371.2C250.0,372.9 245.9,374.7 241.8,376.8C237.8,378.9 233.7,381.2 229.7,383.7C225.6,386.3 221.6,389.0 217.5,392.0L232.00,368.75Z" fill="url(#g4)"/>
<g clip-path="url(#ac4)"><path d="M245.0,361.3C249.1,359.9 253.1,358.5 257.2,357.2C261.2,356.0 265.3,354.9 269.3,353.9C273.4,352.9 277.5,352.1 281.5,351.4C285.6,350.7 289.6,350.1 293.7,349.7C297.8,349.3 301.8,349.1 305.9,349.0C309.9,348.9 314.0,348.9 318.0,349.1C322.1,349.4 326.2,349.7 330.2,350.3C334.3,350.8 338.3,351.5 342.4,352.4C346.4,353.2 350.5,354.2 354.6,355.3C358.6,356.4 362.7,357.5 366.7,358.8C370.8,360.1 374.9,361.4 378.9,362.8C383.0,364.2 387.0,365.7 391.1,367.2C395.1,368.7 399.2,370.2 403.3,371.7C407.3,373.2 411.4,374.7 415.4,376.1C419.5,377.5 423.6,378.8 427.6,380.1C431.7,381.3 435.7,382.5 439.8,383.5C443.8,384.5 447.9,385.5 452.0,386.3C456.0,387.2 460.1,387.9 464.1,388.5C468.2,389.2 472.2,389.7 476.3,390.1C480.4,390.5 484.4,390.9 488.5,391.1C492.5,391.3 496.6,391.5 500.7,391.6C504.7,391.6 508.8,391.6 512.8,391.5C516.9,391.4 520.9,391.3 525.0,391.0" fill="none" stroke="#fbe8cc" stroke-width="9" stroke-linecap="round" opacity="0.3" filter="url(#soft)"/></g>
<path d="M210.00,365.50C214.1,363.3 218.2,361.2 222.4,359.3C226.5,357.4 230.6,355.6 234.7,354.0C238.8,352.4 242.9,350.9 247.1,349.6C251.2,348.2 255.3,347.0 259.4,346.0C263.5,344.9 267.6,344.0 271.8,343.3C275.9,342.5 280.0,341.9 284.1,341.4C288.2,340.9 292.3,340.5 296.5,340.3C300.6,340.1 304.7,340.0 308.8,340.0C312.9,340.0 317.0,340.2 321.2,340.5C325.3,340.7 329.4,341.1 333.5,341.7C337.6,342.2 341.8,342.8 345.9,343.6C350.0,344.4 354.1,345.3 358.2,346.2C362.3,347.2 366.5,348.4 370.6,349.6C374.7,350.8 378.8,352.1 382.9,353.5C387.0,355.0 391.2,356.5 395.3,358.0C399.4,359.6 403.5,361.2 407.6,362.7C411.7,364.3 415.9,365.9 420.0,367.4C424.1,369.0 428.2,370.5 432.3,371.9C436.5,373.3 440.6,374.6 444.7,375.8C448.8,377.0 452.9,378.0 457.0,378.9C461.2,379.8 465.3,380.6 469.4,381.3C473.5,381.9 477.6,382.4 481.7,382.8C485.9,383.2 490.0,383.5 494.1,383.7C498.2,383.9 502.3,384.1 506.4,384.1C510.6,384.1 514.7,384.1 518.8,383.9C522.9,383.8 527.0,383.6 531.1,383.4C535.3,383.1 539.4,382.8 543.5,382.5L534.40,360.20L587.40,382.50L540.90,420.50L546.20,398.00C542.1,398.9 538.1,399.7 534.0,400.4C530.0,401.1 525.9,401.6 521.9,402.1C517.8,402.6 513.7,402.9 509.7,403.2C505.6,403.4 501.6,403.5 497.5,403.5C493.4,403.5 489.4,403.4 485.3,403.2C481.3,403.0 477.2,402.7 473.2,402.2C469.1,401.8 465.0,401.2 461.0,400.6C456.9,399.9 452.9,399.2 448.8,398.3C444.7,397.5 440.7,396.5 436.6,395.5C432.6,394.5 428.5,393.3 424.5,392.2C420.4,391.0 416.3,389.7 412.3,388.4C408.2,387.1 404.2,385.7 400.1,384.3C396.1,382.9 392.0,381.5 387.9,380.1C383.9,378.7 379.8,377.3 375.8,375.9C371.7,374.6 367.6,373.3 363.6,372.0C359.5,370.8 355.5,369.6 351.4,368.5C347.4,367.4 343.3,366.4 339.2,365.5C335.2,364.6 331.1,363.9 327.1,363.2C323.0,362.6 319.0,362.1 314.9,361.8C310.8,361.5 306.8,361.3 302.7,361.3C298.7,361.4 294.6,361.6 290.5,362.0C286.5,362.4 282.4,363.0 278.4,363.8C274.3,364.7 270.3,365.7 266.2,366.9C262.1,368.1 258.1,369.6 254.0,371.2C250.0,372.9 245.9,374.7 241.8,376.8C237.8,378.9 233.7,381.2 229.7,383.7C225.6,386.3 221.6,389.0 217.5,392.0L232.00,368.75Z" fill="none" stroke="#55260f" stroke-width="1.9" stroke-linejoin="round"/>
</svg>
</body></html>
